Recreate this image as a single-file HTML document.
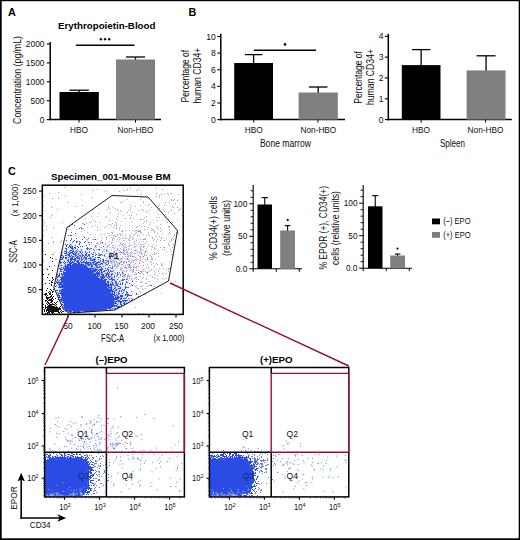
<!DOCTYPE html>
<html><head><meta charset="utf-8"><title>Figure</title>
<style>html,body{margin:0;padding:0;background:#fff;}body{width:520px;height:540px;overflow:hidden;font-family:"Liberation Sans",sans-serif;}svg{display:block;}</style></head>
<body>
<svg width="520" height="540" viewBox="0 0 520 540" font-family="'Liberation Sans', sans-serif" fill="#0d0d0d">
<rect x="0" y="0" width="520" height="540" fill="#fff"/>
<text font-size="10.8" font-weight="bold" x="8" y="16.2" fill="#000">A</text>
<text font-size="9.8" font-weight="bold" textLength="97.5" lengthAdjust="spacingAndGlyphs" x="58" y="29" fill="#000">Erythropoietin-Blood</text>
<line x1="50.2" y1="42" x2="50.2" y2="120.35" stroke="#000" stroke-width="1.5"/>
<line x1="49.45" y1="119.6" x2="161" y2="119.6" stroke="#000" stroke-width="1.5"/>
<line x1="46.7" y1="44" x2="50.2" y2="44" stroke="#000" stroke-width="1.1"/>
<text font-size="8.4" text-anchor="end" x="44.5" y="47">2000</text>
<line x1="46.7" y1="62.9" x2="50.2" y2="62.9" stroke="#000" stroke-width="1.1"/>
<text font-size="8.4" text-anchor="end" x="44.5" y="65.9">1500</text>
<line x1="46.7" y1="81.8" x2="50.2" y2="81.8" stroke="#000" stroke-width="1.1"/>
<text font-size="8.4" text-anchor="end" x="44.5" y="84.8">1000</text>
<line x1="46.7" y1="100.7" x2="50.2" y2="100.7" stroke="#000" stroke-width="1.1"/>
<text font-size="8.4" text-anchor="end" x="44.5" y="103.7">500</text>
<line x1="46.7" y1="119.6" x2="50.2" y2="119.6" stroke="#000" stroke-width="1.1"/>
<text font-size="8.4" text-anchor="end" x="44.5" y="122.6">0</text>
<line x1="79.15" y1="90.2" x2="79.15" y2="93" stroke="#000" stroke-width="1.3"/>
<line x1="69.45" y1="90.2" x2="88.85" y2="90.2" stroke="#000" stroke-width="1.3"/>
<rect x="59.5" y="92" width="39.3" height="27.6" fill="#000"/>
<line x1="135.5" y1="57" x2="135.5" y2="60.5" stroke="#000" stroke-width="1.3"/>
<line x1="126" y1="57" x2="145" y2="57" stroke="#000" stroke-width="1.3"/>
<rect x="116" y="59.5" width="39" height="60.1" fill="#808080"/>
<line x1="79" y1="119.6" x2="79" y2="122.6" stroke="#000" stroke-width="1"/>
<line x1="135.5" y1="119.6" x2="135.5" y2="122.6" stroke="#000" stroke-width="1"/>
<text font-size="8.3" text-anchor="middle" x="79" y="133.2">HBO</text>
<text font-size="8.25" text-anchor="middle" x="135.5" y="133.2">Non-HBO</text>
<line x1="76" y1="45.2" x2="134.5" y2="45.2" stroke="#000" stroke-width="1.4"/>
<circle cx="100.9" cy="39.3" r="1.2" fill="#111"/>
<circle cx="105.1" cy="39.3" r="1.2" fill="#111"/>
<circle cx="109.2" cy="39.3" r="1.2" fill="#111"/>
<text font-size="10.8" text-anchor="middle" textLength="88" lengthAdjust="spacingAndGlyphs" transform="translate(21.3 80) rotate(-90)">Concentration (pg/mL)</text>
<text font-size="10.8" font-weight="bold" x="188.6" y="16.2" fill="#000">B</text>
<line x1="220.8" y1="33.8" x2="220.8" y2="120.35" stroke="#000" stroke-width="1.5"/>
<line x1="220.05" y1="119.6" x2="345" y2="119.6" stroke="#000" stroke-width="1.5"/>
<line x1="217.3" y1="36.5" x2="220.8" y2="36.5" stroke="#000" stroke-width="1.1"/>
<text font-size="8.6" text-anchor="end" x="215.8" y="39.6">10</text>
<line x1="217.3" y1="53.12" x2="220.8" y2="53.12" stroke="#000" stroke-width="1.1"/>
<text font-size="8.6" text-anchor="end" x="215.8" y="56.22">8</text>
<line x1="217.3" y1="69.74" x2="220.8" y2="69.74" stroke="#000" stroke-width="1.1"/>
<text font-size="8.6" text-anchor="end" x="215.8" y="72.84">6</text>
<line x1="217.3" y1="86.36" x2="220.8" y2="86.36" stroke="#000" stroke-width="1.1"/>
<text font-size="8.6" text-anchor="end" x="215.8" y="89.46">4</text>
<line x1="217.3" y1="102.98" x2="220.8" y2="102.98" stroke="#000" stroke-width="1.1"/>
<text font-size="8.6" text-anchor="end" x="215.8" y="106.08">2</text>
<line x1="217.3" y1="119.6" x2="220.8" y2="119.6" stroke="#000" stroke-width="1.1"/>
<text font-size="8.6" text-anchor="end" x="215.8" y="122.7">0</text>
<line x1="253.6" y1="54.6" x2="253.6" y2="64" stroke="#000" stroke-width="1.3"/>
<line x1="244.85" y1="54.6" x2="262.35" y2="54.6" stroke="#000" stroke-width="1.3"/>
<rect x="234.2" y="63" width="38.8" height="56.6" fill="#000"/>
<line x1="318.2" y1="87" x2="318.2" y2="93.5" stroke="#000" stroke-width="1.3"/>
<line x1="308.95" y1="87" x2="327.45" y2="87" stroke="#000" stroke-width="1.3"/>
<rect x="298.6" y="92.5" width="39.2" height="27.1" fill="#808080"/>
<line x1="253.8" y1="119.6" x2="253.8" y2="122.6" stroke="#000" stroke-width="1"/>
<line x1="317.9" y1="119.6" x2="317.9" y2="122.6" stroke="#000" stroke-width="1"/>
<text font-size="8.3" text-anchor="middle" x="253.8" y="133.2">HBO</text>
<text font-size="8.25" text-anchor="middle" x="318.4" y="133.2">Non-HBO</text>
<text font-size="10.8" text-anchor="middle" textLength="51" lengthAdjust="spacingAndGlyphs" x="285.4" y="146.7">Bone marrow</text>
<line x1="253.8" y1="50.2" x2="316" y2="50.2" stroke="#000" stroke-width="1.4"/>
<circle cx="285" cy="44.4" r="1.3" fill="#111"/>
<text font-size="10.8" text-anchor="middle" textLength="52.5" lengthAdjust="spacingAndGlyphs" transform="translate(189 76.2) rotate(-90)">Percentage of</text>
<text font-size="10.8" text-anchor="middle" textLength="56" lengthAdjust="spacingAndGlyphs" transform="translate(201.2 75.6) rotate(-90)">human CD34+</text>
<line x1="388.3" y1="33.8" x2="388.3" y2="120.35" stroke="#000" stroke-width="1.5"/>
<line x1="387.55" y1="119.6" x2="511.8" y2="119.6" stroke="#000" stroke-width="1.5"/>
<line x1="384.8" y1="36.32" x2="388.3" y2="36.32" stroke="#000" stroke-width="1.1"/>
<text font-size="8.5" text-anchor="end" x="383.4" y="39.42">4</text>
<line x1="384.8" y1="57.14" x2="388.3" y2="57.14" stroke="#000" stroke-width="1.1"/>
<text font-size="8.5" text-anchor="end" x="383.4" y="60.24">3</text>
<line x1="384.8" y1="77.96" x2="388.3" y2="77.96" stroke="#000" stroke-width="1.1"/>
<text font-size="8.5" text-anchor="end" x="383.4" y="81.06">2</text>
<line x1="384.8" y1="98.78" x2="388.3" y2="98.78" stroke="#000" stroke-width="1.1"/>
<text font-size="8.5" text-anchor="end" x="383.4" y="101.88">1</text>
<line x1="384.8" y1="119.6" x2="388.3" y2="119.6" stroke="#000" stroke-width="1.1"/>
<text font-size="8.5" text-anchor="end" x="383.4" y="122.7">0</text>
<line x1="421.15" y1="49.6" x2="421.15" y2="66.1" stroke="#000" stroke-width="1.3"/>
<line x1="411.9" y1="49.6" x2="430.4" y2="49.6" stroke="#000" stroke-width="1.3"/>
<rect x="401.8" y="65.1" width="38.7" height="54.5" fill="#000"/>
<line x1="486.05" y1="55.8" x2="486.05" y2="71.4" stroke="#000" stroke-width="1.3"/>
<line x1="476.55" y1="55.8" x2="495.55" y2="55.8" stroke="#000" stroke-width="1.3"/>
<rect x="466.6" y="70.4" width="38.9" height="49.2" fill="#808080"/>
<line x1="421.2" y1="119.6" x2="421.2" y2="122.6" stroke="#000" stroke-width="1"/>
<line x1="485.6" y1="119.6" x2="485.6" y2="122.6" stroke="#000" stroke-width="1"/>
<text font-size="8.3" text-anchor="middle" x="421" y="133.2">HBO</text>
<text font-size="8.25" text-anchor="middle" x="485.5" y="133.2">Non-HBO</text>
<text font-size="10.8" text-anchor="middle" textLength="25" lengthAdjust="spacingAndGlyphs" x="452.5" y="146.7">Spleen</text>
<text font-size="10.8" text-anchor="middle" textLength="52.5" lengthAdjust="spacingAndGlyphs" transform="translate(361.9 77.4) rotate(-90)">Percentage of</text>
<text font-size="10.8" text-anchor="middle" textLength="56" lengthAdjust="spacingAndGlyphs" transform="translate(374 77) rotate(-90)">human CD34+</text>
<text font-size="10.8" font-weight="bold" x="8" y="175.2" fill="#000">C</text>
<text font-size="9.8" font-weight="bold" textLength="119.6" lengthAdjust="spacingAndGlyphs" x="51" y="180.3" fill="#000">Specimen_001-Mouse BM</text>
<defs><filter id="bl" x="-30%" y="-30%" width="160%" height="160%"><feGaussianBlur stdDeviation="5"/></filter><clipPath id="gc"><path d="M53.8 287.5 L67 227.5 L112 195.5 L148 197 L177.5 230.5 L168.5 281 L115 310 L69 313.2 L63.5 309.5 Z"/></clipPath></defs>
<g clip-path="url(#gc)"><path d="M68.8 243 L90 257 L110 276 L126 296 L128 306.5 L112 311 L69 313 L63 309 L54.5 287.5 L61 262 Z" fill="#2b4ce4" fill-opacity="0.22" filter="url(#bl)"/><ellipse cx="112" cy="268" rx="34" ry="22" transform="rotate(-35 112 268)" fill="#5a6ad8" fill-opacity="0.08" filter="url(#bl)"/></g>
<path d="M65.5 309.5 L62.8 296 L63.8 280 L67.5 268.5 L74.5 264.3 L83 265.5 L95 276 L107.5 288.5 L113 298.5 L112.5 306 L100 310 L80 310.8 Z" fill="#2b4ce4" stroke="#2b4ce4" stroke-width="1.2"/>
<path d="M72 224.5h1M84 224.5h1M74 225.5h1M69 226.5h1M67 227.5h1M79 228.5h1M81 228.5h1M71 232.5h1M75 233.5h1M68 235.5h1M70 235.5h2M84 237.5h1M76 238.5h1M88 238.5h1M82 239.5h1M95 239.5h1M66 240.5h1M70 240.5h1M74 240.5h1M73 241.5h1M76 241.5h1M79 241.5h1M85 241.5h1M76 242.5h1M80 242.5h1M84 242.5h1M88 242.5h1M91 242.5h1M102 242.5h1M79 243.5h1M65 244.5h1M67 244.5h1M70 244.5h1M79 244.5h1M89 244.5h1M66 245.5h1M69 245.5h1M86 245.5h1M66 246.5h1M69 246.5h2M72 246.5h1M77 246.5h1M80 246.5h1M95 246.5h1M103 246.5h1M68 247.5h1M70 247.5h3M74 247.5h2M78 247.5h1M65 248.5h2M71 248.5h2M75 248.5h1M86 248.5h1M91 248.5h1M62 249.5h1M72 249.5h1M77 249.5h1M87 249.5h1M89 249.5h1M93 249.5h1M98 249.5h2M70 250.5h2M73 250.5h1M76 250.5h1M94 250.5h1M106 250.5h1M64 251.5h1M66 251.5h1M69 251.5h1M72 251.5h2M77 251.5h1M79 251.5h2M66 252.5h1M68 252.5h1M70 252.5h3M74 252.5h1M76 252.5h1M80 252.5h1M85 252.5h1M93 252.5h1M64 253.5h3M69 253.5h2M73 253.5h1M75 253.5h2M78 253.5h1M81 253.5h1M86 253.5h1M61 254.5h1M67 254.5h3M73 254.5h3M78 254.5h1M82 254.5h1M85 254.5h2M92 254.5h1M99 254.5h1M101 254.5h1M61 255.5h2M65 255.5h2M68 255.5h2M71 255.5h1M75 255.5h2M79 255.5h2M82 255.5h2M85 255.5h1M88 255.5h2M95 255.5h1M104 255.5h1M111 255.5h1M63 256.5h1M69 256.5h2M72 256.5h2M75 256.5h1M77 256.5h2M82 256.5h1M84 256.5h1M87 256.5h1M92 256.5h1M109 256.5h1M60 257.5h4M65 257.5h2M68 257.5h1M71 257.5h2M76 257.5h2M81 257.5h1M84 257.5h3M98 257.5h2M62 258.5h1M65 258.5h2M70 258.5h3M74 258.5h2M77 258.5h3M81 258.5h1M83 258.5h1M85 258.5h1M88 258.5h1M90 258.5h2M94 258.5h1M60 259.5h3M68 259.5h1M70 259.5h2M73 259.5h3M81 259.5h2M86 259.5h1M94 259.5h2M98 259.5h1M103 259.5h1M67 260.5h2M70 260.5h2M75 260.5h1M77 260.5h2M84 260.5h1M90 260.5h1M92 260.5h3M100 260.5h1M64 261.5h1M68 261.5h1M70 261.5h1M72 261.5h1M74 261.5h1M76 261.5h3M80 261.5h1M83 261.5h1M86 261.5h1M94 261.5h1M100 261.5h1M110 261.5h1M60 262.5h2M63 262.5h1M65 262.5h1M67 262.5h1M69 262.5h5M77 262.5h1M81 262.5h6M88 262.5h1M90 262.5h1M93 262.5h2M96 262.5h4M106 262.5h1M64 263.5h1M69 263.5h3M73 263.5h4M78 263.5h2M81 263.5h1M85 263.5h4M93 263.5h1M95 263.5h1M101 263.5h1M105 263.5h1M65 264.5h1M67 264.5h4M72 264.5h2M76 264.5h8M85 264.5h1M87 264.5h2M91 264.5h1M94 264.5h2M100 264.5h1M106 264.5h1M60 265.5h2M65 265.5h1M67 265.5h6M83 265.5h1M85 265.5h2M88 265.5h2M91 265.5h1M95 265.5h1M97 265.5h1M64 266.5h5M70 266.5h1M84 266.5h3M91 266.5h2M96 266.5h1M99 266.5h2M61 267.5h1M63 267.5h1M65 267.5h4M85 267.5h3M91 267.5h1M97 267.5h2M108 267.5h1M59 268.5h2M63 268.5h4M86 268.5h7M95 268.5h1M105 268.5h1M60 269.5h3M64 269.5h3M88 269.5h3M94 269.5h4M99 269.5h3M108 269.5h1M133 269.5h1M64 270.5h3M89 270.5h3M93 270.5h4M98 270.5h1M100 270.5h2M113 270.5h1M60 271.5h2M63 271.5h1M66 271.5h1M90 271.5h5M97 271.5h1M99 271.5h1M101 271.5h1M103 271.5h2M108 271.5h1M110 271.5h1M112 271.5h1M63 272.5h3M91 272.5h3M96 272.5h2M99 272.5h1M101 272.5h1M107 272.5h1M109 272.5h1M122 272.5h1M138 272.5h1M59 273.5h1M61 273.5h1M63 273.5h3M92 273.5h1M94 273.5h5M101 273.5h1M123 273.5h1M57 274.5h1M59 274.5h1M61 274.5h5M93 274.5h7M101 274.5h3M106 274.5h1M108 274.5h1M111 274.5h1M125 274.5h1M58 275.5h2M62 275.5h1M64 275.5h1M94 275.5h2M97 275.5h1M99 275.5h1M102 275.5h2M105 275.5h1M108 275.5h1M124 275.5h1M57 276.5h2M62 276.5h3M96 276.5h3M101 276.5h2M104 276.5h1M106 276.5h1M108 276.5h2M129 276.5h1M60 277.5h5M97 277.5h1M100 277.5h1M102 277.5h3M107 277.5h1M109 277.5h1M56 278.5h1M61 278.5h3M98 278.5h2M101 278.5h3M111 278.5h1M57 279.5h1M60 279.5h4M99 279.5h4M104 279.5h3M110 279.5h1M112 279.5h2M124 279.5h1M126 279.5h1M57 280.5h1M59 280.5h1M61 280.5h3M100 280.5h6M112 280.5h1M114 280.5h1M58 281.5h1M61 281.5h3M101 281.5h5M107 281.5h2M111 281.5h1M115 281.5h1M119 281.5h1M132 281.5h1M56 282.5h8M102 282.5h3M107 282.5h2M112 282.5h1M122 282.5h1M55 283.5h1M57 283.5h1M59 283.5h3M63 283.5h1M103 283.5h4M108 283.5h1M110 283.5h1M112 283.5h1M118 283.5h1M120 283.5h1M122 283.5h1M129 283.5h1M58 284.5h6M104 284.5h5M110 284.5h4M117 284.5h1M120 284.5h1M125 284.5h1M56 285.5h1M59 285.5h1M61 285.5h2M105 285.5h7M116 285.5h2M132 285.5h1M151 285.5h1M55 286.5h1M59 286.5h4M106 286.5h3M111 286.5h1M118 286.5h1M125 286.5h1M58 287.5h5M108 287.5h4M115 287.5h1M120 287.5h1M125 287.5h1M108 288.5h1M111 288.5h1M114 288.5h1M118 288.5h3M125 288.5h1M61 289.5h2M108 289.5h4M113 289.5h1M116 289.5h1M122 289.5h1M56 290.5h2M59 290.5h4M109 290.5h4M115 290.5h2M119 290.5h1M123 290.5h2M59 291.5h1M61 291.5h2M109 291.5h6M119 291.5h1M121 291.5h1M57 292.5h1M60 292.5h3M112 292.5h1M114 292.5h1M118 292.5h1M126 292.5h1M58 293.5h5M110 293.5h3M114 293.5h1M118 293.5h2M122 293.5h1M136 293.5h1M58 294.5h1M61 294.5h2M111 294.5h4M116 294.5h1M118 294.5h1M125 294.5h2M128 294.5h1M136 294.5h1M58 295.5h2M61 295.5h2M111 295.5h2M114 295.5h2M117 295.5h1M120 295.5h3M125 295.5h1M127 295.5h1M129 295.5h2M59 296.5h1M62 296.5h1M112 296.5h2M115 296.5h1M117 296.5h2M120 296.5h3M127 296.5h1M138 296.5h1M58 297.5h5M112 297.5h2M115 297.5h5M121 297.5h1M126 297.5h1M61 298.5h2M113 298.5h6M120 298.5h2M123 298.5h3M128 298.5h1M131 298.5h1M60 299.5h3M113 299.5h5M120 299.5h1M60 300.5h4M113 300.5h1M117 300.5h3M122 300.5h5M129 300.5h1M131 300.5h1M61 301.5h1M63 301.5h1M113 301.5h4M118 301.5h4M123 301.5h1M125 301.5h1M62 302.5h2M113 302.5h1M115 302.5h1M120 302.5h2M124 302.5h1M128 302.5h1M113 303.5h4M120 303.5h1M123 303.5h2M126 303.5h1M61 304.5h2M113 304.5h1M117 304.5h1M120 304.5h2M124 304.5h1M63 305.5h2M113 305.5h4M121 305.5h1M64 306.5h1M111 306.5h4M116 306.5h4M63 307.5h2M108 307.5h4M117 307.5h2M64 308.5h1M105 308.5h1M107 308.5h4M112 308.5h1M114 308.5h2M117 308.5h1M102 309.5h5M110 309.5h1M115 309.5h1M65 310.5h6M72 310.5h5M88 310.5h5M94 310.5h2M97 310.5h2M100 310.5h1M102 310.5h1M106 310.5h2M66 311.5h1M68 311.5h4M73 311.5h7M84 311.5h5M90 311.5h3M70 312.5h1M73 312.5h3M77 312.5h1" stroke="#2b4ce4" stroke-width="1" fill="none"/>
<path d="M71 238.5h1M71 239.5h1M77 241.5h1M72 242.5h1M71 245.5h1M75 245.5h1M82 246.5h1M87 247.5h1M73 248.5h1M87 248.5h2M90 248.5h1M66 249.5h1M81 249.5h1M66 250.5h1M81 250.5h1M65 251.5h1M75 251.5h1M85 251.5h1M89 251.5h1M62 252.5h1M82 252.5h1M87 252.5h1M89 252.5h1M72 253.5h1M91 253.5h1M98 253.5h1M88 254.5h2M93 254.5h1M96 254.5h1M100 254.5h1M86 255.5h1M99 255.5h2M102 255.5h1M80 256.5h1M89 256.5h1M93 256.5h1M79 257.5h1M90 257.5h1M95 257.5h1M97 257.5h1M86 258.5h1M89 258.5h1M100 258.5h1M72 259.5h1M79 259.5h1M85 259.5h1M90 259.5h1M92 259.5h2M102 259.5h1M74 260.5h1M81 260.5h1M91 260.5h1M103 260.5h1M105 260.5h2M60 261.5h1M95 261.5h1M98 261.5h1M102 261.5h2M107 261.5h2M78 262.5h2M87 262.5h1M89 262.5h1M92 262.5h1M103 262.5h2M60 263.5h1M90 263.5h2M96 263.5h2M102 263.5h1M108 263.5h1M89 264.5h2M93 264.5h1M96 264.5h1M98 264.5h2M107 264.5h1M84 265.5h1M92 265.5h1M96 265.5h1M105 265.5h1M109 265.5h1M112 266.5h1M94 267.5h1M96 267.5h1M99 267.5h1M101 267.5h1M110 267.5h1M112 267.5h1M93 268.5h1M101 268.5h2M107 268.5h1M111 268.5h2M92 269.5h2M102 269.5h1M107 269.5h1M60 270.5h1M92 270.5h1M105 270.5h2M108 270.5h1M110 270.5h1M95 271.5h1M111 271.5h1M98 272.5h1M102 272.5h1M117 272.5h1M119 272.5h1M99 273.5h1M105 273.5h1M107 273.5h2M112 273.5h1M115 273.5h1M117 273.5h1M107 274.5h1M109 274.5h1M112 274.5h1M117 274.5h1M120 274.5h1M56 275.5h1M106 275.5h1M111 275.5h1M114 275.5h1M117 275.5h1M120 275.5h1M59 276.5h1M100 276.5h1M103 276.5h1M114 276.5h1M116 276.5h1M122 276.5h1M57 277.5h1M101 277.5h1M111 277.5h2M114 277.5h1M118 277.5h1M108 278.5h1M109 279.5h1M111 279.5h1M114 279.5h1M117 279.5h1M122 279.5h2M121 280.5h3M56 281.5h1M116 281.5h1M126 281.5h1M105 282.5h1M115 282.5h1M126 282.5h2M115 283.5h2M116 284.5h1M122 284.5h1M113 285.5h1M115 285.5h1M114 286.5h1M119 286.5h1M126 287.5h3M110 288.5h1M115 288.5h1M124 289.5h1M121 290.5h1M126 291.5h1M131 291.5h1M123 292.5h1M127 292.5h1M127 293.5h1M127 294.5h1M128 295.5h1M131 295.5h1M132 299.5h1M127 300.5h1M71 310.5h1M93 310.5h1" stroke="#2f50e0" stroke-width="1" fill="none" stroke-opacity="0.85"/>
<path d="M141 197.5h1M140 199.5h1M123 201.5h1M120 202.5h2M149 204.5h1M108 205.5h1M140 205.5h1M148 205.5h1M135 206.5h1M108 207.5h1M112 207.5h1M130 207.5h1M151 207.5h1M109 208.5h1M115 208.5h1M130 208.5h1M117 209.5h1M142 209.5h1M92 210.5h1M117 210.5h1M120 210.5h1M128 210.5h1M130 210.5h1M138 210.5h1M143 210.5h1M149 210.5h1M157 210.5h1M121 211.5h1M110 212.5h1M127 212.5h1M132 212.5h1M147 212.5h1M98 213.5h1M136 214.5h1M158 214.5h1M123 215.5h1M129 215.5h1M131 215.5h1M91 216.5h1M97 216.5h1M106 216.5h1M117 216.5h1M146 216.5h1M105 217.5h1M130 217.5h1M144 217.5h1M159 217.5h1M165 217.5h1M85 218.5h1M116 218.5h1M125 218.5h1M130 218.5h1M133 218.5h1M140 219.5h2M143 219.5h1M93 220.5h1M117 220.5h1M146 220.5h1M157 220.5h1M162 220.5h1M121 221.5h1M131 221.5h1M144 221.5h1M89 222.5h2M99 222.5h1M115 222.5h1M146 222.5h1M82 223.5h2M86 223.5h1M112 223.5h1M116 223.5h1M143 223.5h1M108 224.5h1M110 224.5h1M116 224.5h1M149 224.5h1M71 225.5h1M95 225.5h1M111 225.5h1M114 225.5h1M116 225.5h1M120 225.5h1M129 225.5h1M139 225.5h1M92 226.5h1M106 226.5h1M137 226.5h1M141 226.5h1M144 226.5h1M156 226.5h1M169 226.5h1M80 227.5h2M87 227.5h1M97 227.5h1M104 227.5h1M113 227.5h1M116 227.5h1M119 227.5h1M132 227.5h1M148 227.5h1M169 227.5h1M82 228.5h2M151 228.5h1M68 229.5h1M76 229.5h1M100 229.5h1M119 229.5h1M147 229.5h1M152 229.5h1M158 229.5h1M84 230.5h1M122 230.5h1M125 230.5h1M132 230.5h1M135 230.5h2M138 230.5h3M151 230.5h1M153 230.5h1M161 230.5h1M81 231.5h1M121 231.5h2M134 231.5h1M137 231.5h1M139 231.5h2M154 231.5h1M160 231.5h1M87 232.5h1M111 232.5h2M136 232.5h1M140 232.5h1M148 232.5h1M154 232.5h1M176 232.5h1M107 233.5h1M109 233.5h1M112 233.5h1M119 233.5h1M121 233.5h1M131 233.5h1M135 233.5h1M138 233.5h1M157 233.5h1M162 233.5h1M170 233.5h1M90 234.5h1M95 234.5h1M100 234.5h1M104 234.5h1M117 234.5h1M120 234.5h1M125 234.5h1M134 234.5h1M143 234.5h1M148 234.5h1M168 234.5h1M174 234.5h1M75 235.5h1M109 235.5h2M113 235.5h2M117 235.5h1M122 235.5h1M130 235.5h1M133 235.5h1M137 235.5h1M139 235.5h1M149 235.5h1M174 235.5h1M83 236.5h1M130 236.5h1M156 236.5h1M159 236.5h1M173 236.5h1M78 237.5h1M111 237.5h1M113 237.5h1M118 237.5h2M123 237.5h1M129 237.5h1M132 237.5h1M101 238.5h1M112 238.5h1M114 238.5h1M120 238.5h1M122 238.5h1M125 238.5h1M129 238.5h1M133 238.5h1M161 238.5h1M166 238.5h1M172 238.5h1M86 239.5h2M92 239.5h3M97 239.5h1M106 239.5h1M112 239.5h1M117 239.5h1M119 239.5h1M128 239.5h1M132 239.5h1M140 239.5h1M143 239.5h3M154 239.5h1M157 239.5h1M171 239.5h1M87 240.5h1M101 240.5h1M112 240.5h1M123 240.5h2M129 240.5h1M136 240.5h1M153 240.5h1M171 240.5h1M100 241.5h1M109 241.5h1M118 241.5h1M134 241.5h1M143 241.5h1M146 241.5h1M169 241.5h1M89 242.5h1M97 242.5h1M101 242.5h1M111 242.5h1M121 242.5h1M139 242.5h1M96 243.5h1M102 243.5h1M105 243.5h1M111 243.5h1M120 243.5h1M134 243.5h1M145 243.5h1M168 243.5h1M98 244.5h1M105 244.5h1M109 244.5h1M121 244.5h2M124 244.5h2M134 244.5h1M138 244.5h1M140 244.5h2M143 244.5h1M148 244.5h1M168 244.5h1M95 245.5h1M107 245.5h2M112 245.5h2M119 245.5h1M122 245.5h1M129 245.5h2M136 245.5h1M152 245.5h1M156 245.5h1M169 245.5h1M99 246.5h1M107 246.5h1M115 246.5h1M123 246.5h1M125 246.5h1M128 246.5h1M134 246.5h1M139 246.5h1M141 246.5h1M144 246.5h1M147 246.5h1M151 246.5h1M94 247.5h1M96 247.5h1M100 247.5h2M106 247.5h1M109 247.5h1M112 247.5h2M124 247.5h1M126 247.5h1M134 247.5h1M152 247.5h1M154 247.5h1M164 247.5h1M172 247.5h1M114 248.5h1M120 248.5h1M123 248.5h1M129 248.5h1M140 248.5h1M146 248.5h1M96 249.5h1M104 249.5h1M106 249.5h1M111 249.5h1M117 249.5h1M123 249.5h1M140 249.5h2M151 249.5h1M155 249.5h1M162 249.5h1M99 250.5h1M103 250.5h1M107 250.5h1M115 250.5h1M119 250.5h1M123 250.5h2M126 250.5h1M134 250.5h3M140 250.5h1M143 250.5h1M145 250.5h1M102 251.5h1M104 251.5h1M106 251.5h1M108 251.5h1M120 251.5h1M124 251.5h1M140 251.5h1M166 251.5h1M102 252.5h1M110 252.5h1M113 252.5h2M119 252.5h3M126 252.5h2M130 252.5h1M132 252.5h1M137 252.5h1M139 252.5h1M141 252.5h1M144 252.5h2M154 252.5h1M106 253.5h1M115 253.5h1M122 253.5h1M129 253.5h1M134 253.5h2M140 253.5h1M150 253.5h1M155 253.5h2M158 253.5h1M104 254.5h1M109 254.5h1M111 254.5h1M114 254.5h2M120 254.5h1M124 254.5h2M130 254.5h1M142 254.5h1M152 254.5h1M154 254.5h1M171 254.5h2M109 255.5h1M115 255.5h1M128 255.5h1M130 255.5h1M138 255.5h1M144 255.5h1M104 256.5h2M114 256.5h1M117 256.5h1M122 256.5h1M125 256.5h1M127 256.5h2M130 256.5h1M133 256.5h2M139 256.5h2M151 256.5h1M158 256.5h1M107 257.5h1M110 257.5h1M112 257.5h1M114 257.5h2M135 257.5h1M140 257.5h1M151 257.5h1M106 258.5h1M109 258.5h2M118 258.5h1M120 258.5h3M124 258.5h1M136 258.5h1M143 258.5h1M147 258.5h1M152 258.5h1M111 259.5h1M114 259.5h1M118 259.5h1M121 259.5h1M126 259.5h3M147 259.5h1M152 259.5h1M155 259.5h1M110 260.5h1M112 260.5h2M119 260.5h2M129 260.5h1M132 260.5h3M139 260.5h1M146 260.5h1M111 261.5h1M113 261.5h2M123 261.5h1M128 261.5h1M131 261.5h1M169 261.5h1M111 262.5h2M114 262.5h1M116 262.5h1M118 262.5h1M120 262.5h2M123 262.5h2M126 262.5h1M133 262.5h1M151 262.5h1M111 263.5h1M114 263.5h1M117 263.5h1M123 263.5h1M130 263.5h1M135 263.5h1M161 263.5h1M112 264.5h1M114 264.5h2M122 264.5h1M127 264.5h2M134 264.5h1M147 264.5h1M161 264.5h1M114 265.5h2M117 265.5h2M123 265.5h1M125 265.5h1M129 265.5h1M143 265.5h1M161 265.5h2M116 266.5h2M128 266.5h1M136 266.5h1M138 266.5h1M148 266.5h1M117 267.5h1M120 267.5h1M126 267.5h1M128 267.5h4M133 267.5h1M135 267.5h1M146 267.5h1M121 268.5h2M126 268.5h1M130 268.5h1M136 268.5h1M148 268.5h1M163 268.5h1M168 268.5h2M144 269.5h1M151 269.5h1M156 269.5h1M166 269.5h1M168 269.5h1M121 270.5h1M123 270.5h1M126 270.5h1M130 270.5h2M133 270.5h1M138 270.5h1M142 270.5h1M150 270.5h1M158 270.5h1M122 271.5h1M124 271.5h1M126 271.5h1M132 271.5h2M141 271.5h1M143 271.5h1M145 271.5h1M148 271.5h1M154 271.5h1M158 271.5h1M168 271.5h1M132 272.5h1M135 272.5h1M141 272.5h1M146 272.5h1M155 272.5h1M122 273.5h1M136 273.5h1M139 273.5h2M147 273.5h1M159 273.5h1M162 273.5h1M166 273.5h1M122 274.5h1M128 274.5h1M134 274.5h3M143 274.5h1M155 274.5h1M163 274.5h1M123 275.5h1M127 275.5h2M131 275.5h1M150 275.5h1M157 275.5h1M123 276.5h1M125 276.5h1M127 276.5h1M140 276.5h1M147 276.5h1M152 276.5h1M135 277.5h2M143 277.5h1M152 277.5h1M155 277.5h1M127 278.5h1M129 278.5h1M131 278.5h1M134 278.5h1M142 278.5h1M154 278.5h1M166 278.5h1M127 279.5h1M131 279.5h1M136 279.5h1M146 279.5h1M164 279.5h1M128 280.5h1M132 280.5h1M136 281.5h1M141 281.5h1M141 282.5h1M161 282.5h1M146 283.5h1M133 284.5h1M130 285.5h2M136 285.5h1M142 285.5h1M149 285.5h1M135 286.5h1M141 286.5h1M147 286.5h1M154 286.5h1M136 287.5h1M137 288.5h2M145 288.5h1M142 289.5h1M139 291.5h1M138 294.5h1" stroke="#5862b8" stroke-width="1" fill="none" stroke-opacity="0.5"/>
<path d="M127 199.5h1M143 201.5h1M143 202.5h1M130 205.5h1M107 209.5h1M146 211.5h1M118 213.5h1M156 217.5h1M109 220.5h1M95 221.5h1M166 221.5h1M150 222.5h1M167 222.5h1M160 224.5h1M168 226.5h1M136 227.5h1M157 227.5h1M116 228.5h1M160 228.5h1M144 229.5h1M169 229.5h1M97 230.5h1M129 230.5h1M138 231.5h1M141 232.5h1M169 232.5h1M120 235.5h1M146 235.5h1M125 236.5h1M94 237.5h1M152 237.5h1M161 237.5h1M126 238.5h1M145 238.5h1M152 238.5h1M143 239.5h1M173 239.5h1M129 240.5h1M160 240.5h1M164 240.5h1M156 241.5h1M112 242.5h1M97 243.5h1M120 243.5h1M123 243.5h1M129 243.5h1M173 244.5h1M96 245.5h1M135 246.5h1M143 246.5h1M140 247.5h1M143 247.5h1M160 247.5h1M163 247.5h1M117 248.5h1M154 248.5h1M126 249.5h1M128 249.5h1M131 249.5h1M164 249.5h1M170 249.5h1M118 250.5h1M123 250.5h1M135 250.5h1M127 251.5h1M145 251.5h2M171 251.5h1M95 252.5h1M116 252.5h1M121 252.5h1M95 253.5h1M131 253.5h1M141 253.5h1M144 254.5h1M154 254.5h1M146 255.5h1M150 255.5h1M108 256.5h1M130 256.5h1M142 256.5h2M147 257.5h1M113 258.5h1M118 258.5h1M135 259.5h1M137 259.5h1M140 259.5h1M145 259.5h1M147 259.5h1M151 259.5h1M107 260.5h1M136 260.5h1M140 260.5h1M108 261.5h1M116 261.5h1M124 261.5h1M128 261.5h1M142 261.5h1M150 261.5h1M130 262.5h1M139 262.5h1M143 262.5h1M119 263.5h1M139 263.5h1M153 263.5h1M156 263.5h1M117 264.5h1M119 264.5h1M121 264.5h1M151 264.5h1M157 264.5h1M143 265.5h1M130 266.5h1M133 266.5h1M136 266.5h1M154 266.5h1M124 267.5h1M134 267.5h1M115 268.5h1M159 268.5h1M143 269.5h1M136 270.5h1M140 271.5h2M114 272.5h1M119 272.5h1M111 273.5h1M142 273.5h1M154 274.5h1M124 277.5h1M127 277.5h1M136 277.5h1M112 278.5h1M134 278.5h1M146 278.5h1M162 278.5h1M117 279.5h1M138 279.5h1M157 279.5h1M120 281.5h1M126 281.5h1M149 281.5h1M156 281.5h1M140 282.5h1M125 283.5h1M145 283.5h1M131 284.5h1M148 285.5h1M150 285.5h1M140 286.5h1M117 289.5h1M140 292.5h1M132 293.5h1M114 300.5h1M117 302.5h2M126 302.5h1" stroke="#c83858" stroke-width="1" fill="none" stroke-opacity="0.55"/>
<path d="M115 236.5h1M106 237.5h1M100 243.5h1M114 251.5h1M123 252.5h1M115 253.5h1M124 253.5h1M127 254.5h1M98 255.5h1M132 256.5h1M99 257.5h1M114 258.5h1M127 258.5h1M103 260.5h1M105 260.5h1M108 260.5h1M121 261.5h1M90 262.5h1M92 262.5h1M108 262.5h1M126 262.5h1M78 263.5h1M100 263.5h1M102 263.5h1M119 263.5h1M102 264.5h1M129 264.5h1M129 265.5h1M103 266.5h1M114 266.5h1M125 267.5h1M120 269.5h1M104 270.5h1M147 272.5h1M106 273.5h1M111 274.5h1M118 274.5h1M110 276.5h1M98 278.5h1M116 282.5h1M116 292.5h1" stroke="#2a1a6a" stroke-width="1" fill="none" stroke-opacity="0.6"/>
<path d="M45 254.5h1M50 257.5h1M52 258.5h1M52 261.5h1M49 266.5h1M47 269.5h1M52 270.5h1M43 274.5h1M48 274.5h1M47 277.5h1M52 277.5h1M52 278.5h1M53 279.5h1M49 280.5h1M52 280.5h1M51 281.5h1M51 282.5h2M45 283.5h1M49 283.5h1M51 284.5h1M51 285.5h1M47 288.5h1M50 289.5h1M53 289.5h1M46 290.5h1M51 290.5h1M49 291.5h1M52 291.5h2M48 292.5h1M50 292.5h1M52 292.5h1M45 293.5h2M49 293.5h2M44 294.5h3M49 294.5h2M52 294.5h1M45 295.5h1M47 295.5h1M51 295.5h1M46 296.5h1M50 296.5h2M53 296.5h1M46 297.5h5M52 297.5h1M46 298.5h3M51 298.5h2M55 298.5h1M47 299.5h1M49 299.5h3M53 299.5h1M58 299.5h1M45 300.5h2M48 300.5h5M45 301.5h1M47 301.5h1M51 301.5h2M57 301.5h1M47 302.5h2M50 302.5h2M54 302.5h1M56 302.5h1M46 303.5h1M48 303.5h2M52 303.5h1M55 303.5h1M43 304.5h1M47 304.5h1M49 304.5h6M56 304.5h1M45 305.5h1M48 305.5h4M55 305.5h1M45 306.5h1M47 306.5h8M56 306.5h1M60 306.5h1M43 307.5h1M45 307.5h13M59 307.5h1M45 308.5h1M47 308.5h14M44 309.5h1M46 309.5h15M44 310.5h1M46 310.5h13M61 310.5h1M44 311.5h1M46 311.5h1M48 311.5h11M60 311.5h1M62 311.5h2M47 312.5h3M51 312.5h3M58 312.5h2M61 312.5h1M45 313.5h1M47 313.5h1M49 313.5h1M52 313.5h1M54 313.5h1M59 313.5h1" stroke="#000" stroke-width="1" fill="none" stroke-opacity="0.92"/>
<path d="M64 187.5h1M130 188.5h1M156 188.5h1M97 189.5h1M127 189.5h1M138 189.5h1M162 189.5h1M93 190.5h1M124 190.5h1M136 190.5h1M105 191.5h1M119 191.5h1M58 192.5h1M49 193.5h1M156 193.5h1M167 193.5h1M171 193.5h1M81 194.5h1M141 194.5h1M161 194.5h1M164 194.5h1M168 194.5h1M178 194.5h1M159 195.5h1M65 196.5h1M156 196.5h1M92 197.5h1M159 197.5h1M52 198.5h1M58 198.5h1M171 199.5h1M174 199.5h1M171 200.5h1M173 200.5h1M177 200.5h1M67 202.5h1M165 202.5h1M169 202.5h1M175 203.5h1M159 204.5h1M82 205.5h1M164 205.5h1M75 206.5h1M96 206.5h1M158 206.5h1M172 206.5h1M51 207.5h1M173 207.5h1M177 207.5h1M159 208.5h1M180 208.5h1M57 209.5h1M163 209.5h1M179 209.5h1M171 210.5h1M178 210.5h1M164 211.5h1M168 212.5h1M174 213.5h1M165 214.5h1M51 215.5h1M164 215.5h1M182 215.5h1M74 216.5h1M50 217.5h1M75 217.5h1M168 219.5h1M177 220.5h1M44 222.5h1M62 222.5h1M172 222.5h1M46 226.5h1M53 227.5h1M46 229.5h1M177 232.5h1M178 233.5h1M52 237.5h1M61 240.5h1M53 241.5h1M63 241.5h1M53 242.5h1M60 242.5h1M48 243.5h1M43 251.5h1M54 252.5h1M52 254.5h2M55 259.5h2M43 261.5h1M54 265.5h1M57 265.5h1M46 268.5h1M49 273.5h1M55 279.5h1M175 281.5h1M172 283.5h1M182 291.5h1M161 293.5h1M145 294.5h1M121 307.5h1M135 307.5h1M122 309.5h1" stroke="#333" stroke-width="1" fill="none" stroke-opacity="0.45"/>
<path d="M53.8 287.5 L67 227.5 L112 195.5 L148 197 L177.5 230.5 L168.5 281 L115 310 L69 313.2 L63.5 309.5 Z" fill="none" stroke="#1a1a1a" stroke-width="1"/>
<rect x="42.3" y="185.2" width="140.9" height="129.2" fill="none" stroke="#000" stroke-width="1.5"/>
<text font-size="8.4" text-anchor="middle" x="113.8" y="259.2" fill="#141438" stroke="#141438" stroke-width="0.25">P1</text>
<line x1="39" y1="289.57" x2="42.3" y2="289.57" stroke="#000" stroke-width="1.1"/>
<text font-size="8.3" text-anchor="end" x="36.6" y="292.57">50</text>
<line x1="68" y1="314.4" x2="68" y2="317.4" stroke="#000" stroke-width="1.1"/>
<line x1="39" y1="264.95" x2="42.3" y2="264.95" stroke="#000" stroke-width="1.1"/>
<text font-size="8.3" text-anchor="end" x="36.6" y="267.95">100</text>
<line x1="95" y1="314.4" x2="95" y2="317.4" stroke="#000" stroke-width="1.1"/>
<line x1="39" y1="240.32" x2="42.3" y2="240.32" stroke="#000" stroke-width="1.1"/>
<text font-size="8.3" text-anchor="end" x="36.6" y="243.32">150</text>
<line x1="122" y1="314.4" x2="122" y2="317.4" stroke="#000" stroke-width="1.1"/>
<line x1="39" y1="215.7" x2="42.3" y2="215.7" stroke="#000" stroke-width="1.1"/>
<text font-size="8.3" text-anchor="end" x="36.6" y="218.7">200</text>
<line x1="149" y1="314.4" x2="149" y2="317.4" stroke="#000" stroke-width="1.1"/>
<line x1="39" y1="191.07" x2="42.3" y2="191.07" stroke="#000" stroke-width="1.1"/>
<text font-size="8.3" text-anchor="end" x="36.6" y="194.07">250</text>
<line x1="176" y1="314.4" x2="176" y2="317.4" stroke="#000" stroke-width="1.1"/>
<line x1="42.3" y1="309.27" x2="43.8" y2="309.27" stroke="#444" stroke-width="0.5"/>
<line x1="46.4" y1="312.9" x2="46.4" y2="314.4" stroke="#444" stroke-width="0.5"/>
<line x1="42.3" y1="304.35" x2="43.8" y2="304.35" stroke="#444" stroke-width="0.5"/>
<line x1="51.8" y1="312.9" x2="51.8" y2="314.4" stroke="#444" stroke-width="0.5"/>
<line x1="42.3" y1="299.43" x2="43.8" y2="299.43" stroke="#444" stroke-width="0.5"/>
<line x1="57.2" y1="312.9" x2="57.2" y2="314.4" stroke="#444" stroke-width="0.5"/>
<line x1="42.3" y1="294.5" x2="43.8" y2="294.5" stroke="#444" stroke-width="0.5"/>
<line x1="62.6" y1="312.9" x2="62.6" y2="314.4" stroke="#444" stroke-width="0.5"/>
<line x1="42.3" y1="284.65" x2="43.8" y2="284.65" stroke="#444" stroke-width="0.5"/>
<line x1="73.4" y1="312.9" x2="73.4" y2="314.4" stroke="#444" stroke-width="0.5"/>
<line x1="42.3" y1="279.72" x2="43.8" y2="279.72" stroke="#444" stroke-width="0.5"/>
<line x1="78.8" y1="312.9" x2="78.8" y2="314.4" stroke="#444" stroke-width="0.5"/>
<line x1="42.3" y1="274.8" x2="43.8" y2="274.8" stroke="#444" stroke-width="0.5"/>
<line x1="84.2" y1="312.9" x2="84.2" y2="314.4" stroke="#444" stroke-width="0.5"/>
<line x1="42.3" y1="269.88" x2="43.8" y2="269.88" stroke="#444" stroke-width="0.5"/>
<line x1="89.6" y1="312.9" x2="89.6" y2="314.4" stroke="#444" stroke-width="0.5"/>
<line x1="42.3" y1="260.02" x2="43.8" y2="260.02" stroke="#444" stroke-width="0.5"/>
<line x1="100.4" y1="312.9" x2="100.4" y2="314.4" stroke="#444" stroke-width="0.5"/>
<line x1="42.3" y1="255.1" x2="43.8" y2="255.1" stroke="#444" stroke-width="0.5"/>
<line x1="105.8" y1="312.9" x2="105.8" y2="314.4" stroke="#444" stroke-width="0.5"/>
<line x1="42.3" y1="250.17" x2="43.8" y2="250.17" stroke="#444" stroke-width="0.5"/>
<line x1="111.2" y1="312.9" x2="111.2" y2="314.4" stroke="#444" stroke-width="0.5"/>
<line x1="42.3" y1="245.25" x2="43.8" y2="245.25" stroke="#444" stroke-width="0.5"/>
<line x1="116.6" y1="312.9" x2="116.6" y2="314.4" stroke="#444" stroke-width="0.5"/>
<line x1="42.3" y1="235.4" x2="43.8" y2="235.4" stroke="#444" stroke-width="0.5"/>
<line x1="127.4" y1="312.9" x2="127.4" y2="314.4" stroke="#444" stroke-width="0.5"/>
<line x1="42.3" y1="230.47" x2="43.8" y2="230.47" stroke="#444" stroke-width="0.5"/>
<line x1="132.8" y1="312.9" x2="132.8" y2="314.4" stroke="#444" stroke-width="0.5"/>
<line x1="42.3" y1="225.55" x2="43.8" y2="225.55" stroke="#444" stroke-width="0.5"/>
<line x1="138.2" y1="312.9" x2="138.2" y2="314.4" stroke="#444" stroke-width="0.5"/>
<line x1="42.3" y1="220.62" x2="43.8" y2="220.62" stroke="#444" stroke-width="0.5"/>
<line x1="143.6" y1="312.9" x2="143.6" y2="314.4" stroke="#444" stroke-width="0.5"/>
<line x1="42.3" y1="210.77" x2="43.8" y2="210.77" stroke="#444" stroke-width="0.5"/>
<line x1="154.4" y1="312.9" x2="154.4" y2="314.4" stroke="#444" stroke-width="0.5"/>
<line x1="42.3" y1="205.85" x2="43.8" y2="205.85" stroke="#444" stroke-width="0.5"/>
<line x1="159.8" y1="312.9" x2="159.8" y2="314.4" stroke="#444" stroke-width="0.5"/>
<line x1="42.3" y1="200.93" x2="43.8" y2="200.93" stroke="#444" stroke-width="0.5"/>
<line x1="165.2" y1="312.9" x2="165.2" y2="314.4" stroke="#444" stroke-width="0.5"/>
<line x1="42.3" y1="196" x2="43.8" y2="196" stroke="#444" stroke-width="0.5"/>
<line x1="170.6" y1="312.9" x2="170.6" y2="314.4" stroke="#444" stroke-width="0.5"/>
<text font-size="8.3" text-anchor="middle" x="68" y="328.5">50</text>
<text font-size="8.3" text-anchor="middle" x="94.5" y="328.5">100</text>
<text font-size="8.3" text-anchor="middle" x="121.5" y="328.5">150</text>
<text font-size="8.3" text-anchor="middle" x="148" y="328.5">200</text>
<text font-size="8.3" text-anchor="middle" x="176" y="328.5">250</text>
<text font-size="11" text-anchor="middle" textLength="23" lengthAdjust="spacingAndGlyphs" x="112.6" y="342.3">FSC-A</text>
<text font-size="8.7" text-anchor="middle" textLength="30.8" lengthAdjust="spacingAndGlyphs" x="169" y="340.7">(x 1,000)</text>
<text font-size="10.2" text-anchor="middle" textLength="22.4" lengthAdjust="spacingAndGlyphs" transform="translate(17.4 251.6) rotate(-90)">SSC-A</text>
<text font-size="8.7" text-anchor="middle" textLength="32.5" lengthAdjust="spacingAndGlyphs" transform="translate(18.3 200) rotate(-90)">(x 1,000)</text>
<line x1="68.6" y1="315.6" x2="45" y2="365" stroke="#96102f" stroke-width="1.4"/>
<line x1="170" y1="283" x2="348.8" y2="366" stroke="#96102f" stroke-width="1.4"/>
<line x1="253.2" y1="185" x2="253.2" y2="269.3" stroke="#000" stroke-width="1.1"/>
<line x1="252.7" y1="268.8" x2="302" y2="268.8" stroke="#000" stroke-width="1.1"/>
<line x1="249.2" y1="268.8" x2="253.2" y2="268.8" stroke="#000" stroke-width="1"/>
<line x1="250.5" y1="262.3" x2="253.2" y2="262.3" stroke="#000" stroke-width="0.9"/>
<line x1="250.5" y1="255.8" x2="253.2" y2="255.8" stroke="#000" stroke-width="0.9"/>
<line x1="250.5" y1="249.3" x2="253.2" y2="249.3" stroke="#000" stroke-width="0.9"/>
<line x1="250.5" y1="242.8" x2="253.2" y2="242.8" stroke="#000" stroke-width="0.9"/>
<line x1="249.2" y1="236.3" x2="253.2" y2="236.3" stroke="#000" stroke-width="1"/>
<line x1="250.5" y1="229.8" x2="253.2" y2="229.8" stroke="#000" stroke-width="0.9"/>
<line x1="250.5" y1="223.3" x2="253.2" y2="223.3" stroke="#000" stroke-width="0.9"/>
<line x1="250.5" y1="216.8" x2="253.2" y2="216.8" stroke="#000" stroke-width="0.9"/>
<line x1="250.5" y1="210.3" x2="253.2" y2="210.3" stroke="#000" stroke-width="0.9"/>
<line x1="249.2" y1="203.8" x2="253.2" y2="203.8" stroke="#000" stroke-width="1"/>
<line x1="250.5" y1="197.3" x2="253.2" y2="197.3" stroke="#000" stroke-width="0.9"/>
<line x1="250.5" y1="190.8" x2="253.2" y2="190.8" stroke="#000" stroke-width="0.9"/>
<text font-size="8.3" text-anchor="end" x="247.3" y="206.8">100</text>
<text font-size="8.3" text-anchor="end" x="247.3" y="239.3">50</text>
<text font-size="8.3" text-anchor="end" x="247.3" y="271.8">0.0</text>
<line x1="264.75" y1="197.6" x2="264.75" y2="205.5" stroke="#000" stroke-width="1.1"/>
<line x1="261.5" y1="197.6" x2="268" y2="197.6" stroke="#000" stroke-width="1.1"/>
<rect x="257.5" y="204.5" width="14.5" height="64.3" fill="#000"/>
<line x1="287.6" y1="225.6" x2="287.6" y2="231.5" stroke="#000" stroke-width="1.1"/>
<line x1="284.85" y1="225.6" x2="290.35" y2="225.6" stroke="#000" stroke-width="1.1"/>
<rect x="280.2" y="230.5" width="14.8" height="38.3" fill="#808080"/>
<line x1="253.2" y1="268.8" x2="253.2" y2="271.8" stroke="#000" stroke-width="1"/>
<line x1="276.3" y1="268.8" x2="276.3" y2="271.8" stroke="#000" stroke-width="1"/>
<line x1="299.3" y1="268.8" x2="299.3" y2="271.8" stroke="#000" stroke-width="1"/>
<circle cx="287.7" cy="219.9" r="1.1" fill="#111"/>
<text font-size="10.6" text-anchor="middle" textLength="63.8" lengthAdjust="spacingAndGlyphs" transform="translate(217.3 228) rotate(-90)">% CD34(+) cells</text>
<text font-size="10.6" text-anchor="middle" textLength="56" lengthAdjust="spacingAndGlyphs" transform="translate(229.5 228) rotate(-90)">(relative units)</text>
<line x1="363.2" y1="185" x2="363.2" y2="268.7" stroke="#000" stroke-width="1.1"/>
<line x1="362.7" y1="268.2" x2="412" y2="268.2" stroke="#000" stroke-width="1.1"/>
<line x1="359.2" y1="268.2" x2="363.2" y2="268.2" stroke="#000" stroke-width="1"/>
<line x1="360.5" y1="261.7" x2="363.2" y2="261.7" stroke="#000" stroke-width="0.9"/>
<line x1="360.5" y1="255.2" x2="363.2" y2="255.2" stroke="#000" stroke-width="0.9"/>
<line x1="360.5" y1="248.7" x2="363.2" y2="248.7" stroke="#000" stroke-width="0.9"/>
<line x1="360.5" y1="242.2" x2="363.2" y2="242.2" stroke="#000" stroke-width="0.9"/>
<line x1="359.2" y1="235.7" x2="363.2" y2="235.7" stroke="#000" stroke-width="1"/>
<line x1="360.5" y1="229.2" x2="363.2" y2="229.2" stroke="#000" stroke-width="0.9"/>
<line x1="360.5" y1="222.7" x2="363.2" y2="222.7" stroke="#000" stroke-width="0.9"/>
<line x1="360.5" y1="216.2" x2="363.2" y2="216.2" stroke="#000" stroke-width="0.9"/>
<line x1="360.5" y1="209.7" x2="363.2" y2="209.7" stroke="#000" stroke-width="0.9"/>
<line x1="359.2" y1="203.2" x2="363.2" y2="203.2" stroke="#000" stroke-width="1"/>
<line x1="360.5" y1="196.7" x2="363.2" y2="196.7" stroke="#000" stroke-width="0.9"/>
<line x1="360.5" y1="190.2" x2="363.2" y2="190.2" stroke="#000" stroke-width="0.9"/>
<text font-size="8.3" text-anchor="end" x="357.5" y="206.2">100</text>
<text font-size="8.3" text-anchor="end" x="357.5" y="238.7">50</text>
<text font-size="8.3" text-anchor="end" x="357.5" y="271.2">0.0</text>
<line x1="375.25" y1="195.6" x2="375.25" y2="207.3" stroke="#000" stroke-width="1.1"/>
<line x1="372.25" y1="195.6" x2="378.25" y2="195.6" stroke="#000" stroke-width="1.1"/>
<rect x="368" y="206.3" width="14.5" height="61.9" fill="#000"/>
<line x1="397.6" y1="254" x2="397.6" y2="256.5" stroke="#000" stroke-width="1.1"/>
<line x1="394.85" y1="254" x2="400.35" y2="254" stroke="#000" stroke-width="1.1"/>
<rect x="390.2" y="255.5" width="14.8" height="12.7" fill="#808080"/>
<line x1="363.2" y1="268.2" x2="363.2" y2="271.2" stroke="#000" stroke-width="1"/>
<line x1="386.3" y1="268.2" x2="386.3" y2="271.2" stroke="#000" stroke-width="1"/>
<line x1="409.3" y1="268.2" x2="409.3" y2="271.2" stroke="#000" stroke-width="1"/>
<circle cx="397.5" cy="248.6" r="1.1" fill="#111"/>
<text font-size="10.6" text-anchor="middle" textLength="83.5" lengthAdjust="spacingAndGlyphs" transform="translate(327.2 227.8) rotate(-90)">% EPOR (+), CD34(+)</text>
<text font-size="10.6" text-anchor="middle" textLength="74" lengthAdjust="spacingAndGlyphs" transform="translate(338.5 228) rotate(-90)">cells (relative units)</text>
<rect x="432" y="218.5" width="8" height="5.8" fill="#000"/>
<rect x="432" y="232" width="8" height="5.8" fill="#808080"/>
<text font-size="8.2" textLength="27.4" lengthAdjust="spacingAndGlyphs" x="443.2" y="224.2">(–) EPO</text>
<text font-size="8.2" textLength="27.4" lengthAdjust="spacingAndGlyphs" x="443.2" y="237.9">(+) EPO</text>
<path d="M45.2 461.5 L50.6 460 L59.1 459 L78.6 459 L84.6 461 L87.1 464.5 L88.6 477 L87.1 487.5 L83.1 493 L74.6 495.6 L45.2 495.6 Z" fill="#2b4ce4" stroke="#2b4ce4" stroke-width="0.8"/>
<path d="M53 453.5h1M59 453.5h1M64 453.5h2M71 453.5h2M76 453.5h1M46 454.5h2M50 454.5h1M56 454.5h1M60 454.5h2M64 454.5h1M67 454.5h3M73 454.5h2M76 454.5h2M79 454.5h2M45 455.5h1M48 455.5h3M57 455.5h1M61 455.5h2M64 455.5h2M70 455.5h3M84 455.5h2M87 455.5h1M46 456.5h1M48 456.5h2M52 456.5h1M54 456.5h2M57 456.5h1M60 456.5h1M62 456.5h1M64 456.5h1M67 456.5h2M70 456.5h1M72 456.5h2M75 456.5h1M77 456.5h1M81 456.5h2M87 456.5h1M45 457.5h1M47 457.5h4M52 457.5h2M55 457.5h13M69 457.5h3M73 457.5h1M75 457.5h7M83 457.5h1M85 457.5h2M88 457.5h1M45 458.5h1M49 458.5h17M67 458.5h16M85 458.5h1M87 458.5h1M89 458.5h1M45 459.5h1M47 459.5h8M80 459.5h8M45 460.5h4M83 460.5h4M90 460.5h1M85 461.5h4M91 461.5h1M86 462.5h3M90 462.5h1M92 462.5h1M86 463.5h2M89 463.5h1M87 464.5h3M91 464.5h2M87 465.5h2M93 465.5h1M87 466.5h4M87 467.5h7M88 468.5h4M88 469.5h5M88 470.5h1M90 470.5h4M88 471.5h3M88 472.5h4M88 473.5h1M90 473.5h2M94 473.5h1M88 474.5h1M92 474.5h2M88 475.5h1M90 475.5h4M89 476.5h2M92 476.5h1M89 477.5h3M88 478.5h1M90 478.5h1M93 478.5h1M88 479.5h2M88 480.5h1M90 480.5h4M88 481.5h1M90 481.5h1M88 482.5h1M90 482.5h2M88 483.5h1M92 483.5h2M88 484.5h1M88 485.5h2M91 485.5h1M93 485.5h1M87 486.5h2M87 487.5h3M86 488.5h6M86 489.5h1M88 489.5h1M90 489.5h1M85 490.5h2M90 490.5h2M84 491.5h2M87 491.5h3M83 492.5h7M81 493.5h4M87 493.5h1M78 494.5h7M86 494.5h1M88 494.5h1M76 495.5h7" stroke="#2b4ce4" stroke-width="1" fill="none"/>
<path d="M74 444.5h1M83 446.5h1M90 448.5h1M55 451.5h1M68 451.5h1M45 453.5h1M49 453.5h1M83 453.5h1M98 453.5h1M86 454.5h1M89 455.5h1M91 455.5h1M102 455.5h1M96 456.5h1M100 456.5h1M103 456.5h1M92 457.5h2M93 458.5h1M99 458.5h1M101 458.5h1M92 459.5h1M99 459.5h1M95 460.5h1M97 460.5h1M95 461.5h2M93 462.5h1M109 462.5h1M94 463.5h3M100 463.5h1M94 464.5h1M105 464.5h1M98 465.5h1M100 465.5h1M103 465.5h1M109 465.5h1M94 466.5h2M99 466.5h2M97 467.5h1M107 467.5h1M99 468.5h1M95 470.5h1M104 470.5h1M96 471.5h1M98 471.5h2M104 471.5h1M95 472.5h1M99 472.5h1M104 472.5h1M103 473.5h1M96 474.5h1M98 474.5h2M108 474.5h1M97 475.5h1M99 476.5h1M101 476.5h1M111 476.5h1M108 477.5h1M95 478.5h2M98 479.5h2M98 480.5h2M107 480.5h2M96 481.5h1M95 483.5h1M100 483.5h2M94 484.5h1M94 485.5h1M96 485.5h1M103 485.5h1M95 487.5h1M99 487.5h1M94 488.5h1M94 490.5h2M93 491.5h1M105 491.5h1M96 492.5h1M93 493.5h2M91 494.5h1" stroke="#3350d8" stroke-width="1" fill="none" stroke-opacity="0.75"/>
<path d="M73.85 494h0.8M73.25 495.2h0.8M51.14 495.07h0.8M80.82 493.5h0.8M68.82 495.56h0.8M80.25 494.44h0.8M74.56 493.39h0.8M79.96 493.06h0.8M76.91 492.79h0.8M73.98 490.08h0.8M68.99 492.81h0.8M56.8 485.47h0.8M55.74 492.95h0.8M80.98 495.44h0.8M76.51 494.5h0.8M55.79 494.53h0.8M50.16 495.43h0.8M79.5 488.96h0.8M46.71 495.34h0.8M69.91 494.03h0.8M73.09 493.72h0.8M62.35 491.28h0.8M80.92 494.22h0.8M70.75 494.41h0.8M83.92 494.05h0.8M72.46 492.43h0.8M67.4 489.26h0.8M49.26 495.15h0.8M79.69 492.05h0.8M50.66 494.56h0.8M56.68 493.32h0.8M70.84 490.22h0.8M72.19 494.55h0.8M81.37 494.94h0.8M82.15 495.22h0.8M81.21 493.02h0.8M76.22 490.38h0.8M60.71 495.13h0.8M73.7 493.64h0.8M52.11 494.36h0.8M58.53 495.55h0.8M84.06 493.32h0.8M70.5 494.42h0.8M81.49 489.1h0.8M52.51 495.55h0.8M68.96 487.43h0.8M53.19 495.32h0.8M73.05 493.73h0.8M81.43 492.55h0.8M62.79 482.74h0.8M46.87 494.38h0.8M58.84 494.46h0.8M49.5 493.2h0.8M63.58 491.1h0.8M76.67 493.84h0.8M83.5 487.03h0.8M56.77 493.86h0.8M51.87 490.48h0.8M47.99 489.25h0.8M57.89 493.56h0.8M56 495.54h0.8M54.08 493.29h0.8M79.81 490.33h0.8M57.07 493.01h0.8M52.23 494.49h0.8M51.94 493.92h0.8M73.76 490.89h0.8M62.55 495.58h0.8M60.95 495h0.8M72.98 494.56h0.8" stroke="#fff" stroke-width="0.8" fill="none" stroke-opacity="0.8"/>
<path d="M106.3 446.27h1M83.55 430.25h1M84.04 441.53h1M55.77 425.8h1M52.43 450.45h1M80.33 424.45h1M89.59 420.42h1M65.84 446.69h1M86.55 447.13h1M57.25 421.47h1M69.4 441.72h1M83.75 442.27h1M71.45 435.21h1M79.48 436.66h1M93.86 424.92h1M63.21 431.57h1M90.9 429.96h1M106.24 441.13h1M99.54 438.04h1M75.49 422.84h1M90.02 422.26h1M58.58 434.09h1M94.32 434.94h1M95.67 445.29h1M66.04 439.32h1M75.76 448.17h1M88.23 439.11h1M91.03 450.77h1M89.05 446.59h1M95.7 445.81h1M100.82 439.56h1M80.87 431.02h1M50.19 450.2h1M98.6 432.84h1M58.31 426.73h1M84.21 448.87h1M93.91 449.43h1M98.66 450.14h1M84.23 433.2h1M89.72 442.31h1M106.39 451.03h1M96.79 449.87h1M70.03 443.41h1M104.95 450.87h1M92.07 425.88h1M71.13 448.23h1M69.53 425.04h1M79.38 451.06h1M83.08 444.23h1M100.53 419.03h1M80.15 449.17h1M93.78 451.05h1M73.12 423.7h1M80.84 425.69h1M72.47 438.71h1M76.48 449.69h1M93.17 445.58h1M66.72 440.63h1M81.98 417.28h1M95.36 447.74h1M49.63 431.96h1M77.44 429.9h1M96.91 422.06h1M90.94 431.38h1M99.04 443.04h1M68.34 440.71h1M88.74 439.5h1M71.5 435.04h1M56.4 437.33h1M97.59 450.12h1M70.93 426.83h1M94.89 443.38h1M96.83 433.52h1M98.59 445.06h1M70.39 440.53h1M98.38 415.53h1M67.53 451.24h1M91.37 432.89h1M49.44 448.35h1M97.56 417.72h1M54.67 424.54h1M94.15 423.98h1M89.7 423.7h1M54.65 444.04h1M87.06 438.33h1M93.53 419.42h1M98.67 439.66h1M107.2 418.5h1M67.24 424.87h1M78.4 439.02h1M75 437.53h1M91.25 437.8h1M63.98 446.28h1M85.81 443.85h1M67.15 441.23h1M65.19 437.29h1M95.98 421.79h1M85.2 439.16h1M97.21 436.27h1M91.27 429.9h1M100.82 425.57h1M81.24 416.76h1M49.92 428.44h1M108.09 434.62h1M66.59 429.44h1M99.47 449.76h1M64.61 428.42h1M83.15 447.61h1M70.31 421.56h1M90.97 421.98h1M56 433.37h1M55.42 418.59h1M80.43 450.88h1M100.73 450.55h1M80.67 438.73h1M58.95 448.12h1M107.76 451.18h1M58.04 417.46h1M71.62 441.54h1M86.14 423.58h1M96.26 433.88h1M99.42 421.81h1M82.35 465.54h1M93.31 424.46h1M75.41 451.94h1M87.56 449.2h1M93.81 437.76h1M79.01 440.49h1M82.88 439.22h1M84.23 441.42h1M112.49 427.68h1M103.5 425.18h1M110.8 433.62h1M91.9 433.92h1M76.5 448.94h1M85.95 424.65h1M80.7 440.03h1M95.4 440.25h1M96.28 434.03h1M80.32 446.16h1M100.28 443.08h1M80.87 455.28h1M90.34 438.93h1M78.02 446.31h1M87.21 438.16h1M90.86 432.54h1M97.74 436.85h1M88.8 428.11h1M93 447.97h1M67.72 433.74h1M101.09 437.92h1M88.34 438.87h1M90.75 437.66h1M104.18 439.37h1M100.85 431.51h1M115.68 433.94h1M126.78 443.46h1M105.91 450.84h1M140.8 434.64h1M110.49 446.24h1M132.14 451.45h1M156 448.05h1M120.14 416.69h1M112.39 425.79h1M140.73 451.05h1M108.22 435.7h1M125.93 448.47h1M110.24 431.78h1M133.76 451.12h1M117.26 443.49h1M106.84 448.44h1M109.86 444.47h1M113.45 419.07h1M107.3 438.06h1M115.3 443.74h1M128.72 452.07h1M112.83 451.88h1M108.09 418.72h1M172.42 425.84h1M143.36 450.52h1M125.7 448.81h1M116.95 387.61h1M125.37 442.37h1M130.02 444.56h1M118.67 436.44h1M136.23 417.67h1M153.49 418.45h1M112.18 445.99h1M149.93 450.39h1M116.99 432.55h1M130.15 443.15h1M174.47 444.97h1M136.59 436.34h1M144.35 414.49h1M117.79 427.22h1M130.2 441.86h1M178.11 441.37h1M111.22 428.9h1M109.83 436.38h1M117.97 437.13h1M141.31 439.68h1M135.38 435.82h1M131.41 448.46h1M126.41 432.73h1M170.8 447.96h1M124.49 446.62h1M108 447.59h1M107.85 423.47h1M121.14 451.37h1M116.52 444.46h1M120 443.31h1M122.45 444.6h1M115.83 444.74h1M109.49 439.99h1M115.5 438.51h1M113.06 448.44h1M115.16 446.82h1M113.08 444.37h1M117.8 443.4h1M113.67 448.99h1M115.52 442.57h1M119.05 443.28h1M112.83 447.63h1M113.71 444.8h1M116.44 445.74h1M116.82 444.76h1M111.66 444.32h1M116.43 440.2h1M112.06 443.06h1M113.96 448.37h1M109.98 443.97h1M121.2 440.34h1M137.29 459.32h1M116.08 456.67h1M166.94 461.65h1M114.58 460.06h1M145.02 460.81h1M177.09 467.87h1M119.36 464.24h1M158.54 478.87h1M139.62 459.99h1M169.72 478.07h1M170.01 486.57h1M140.06 468.69h1M137.84 482.41h1M161.9 455.36h1M157.22 460.12h1M127.47 455.54h1M176.96 468.43h1M140.39 464.08h1M121.69 468.01h1M132.21 459.18h1M132.64 454.64h1M140.07 480.15h1M128.54 489.04h1M136.93 458.04h1M179.55 479.16h1M181.27 463.08h1M122.34 479.3h1M125.96 472.95h1M130.92 479.97h1M120.66 491.78h1M120.06 460.76h1M138.97 486.05h1M133.79 458.45h1M111.35 481.86h1M141.73 457.17h1M138.09 458.31h1M177.65 465.96h1M168.95 458.5h1M151.38 482.46h1M141.94 454.68h1M113.3 462.9h1M151.57 471.66h1M176 482.14h1M178.9 491.01h1M175.66 470.18h1M159.31 458.09h1M128.5 459.12h1M117.44 473.36h1M120.09 456.9h1M132.12 484.4h1M113.49 484.18h1M125.73 478.5h1M179.45 490.78h1M159.98 466.73h1M156.41 490.18h1M115.99 458.29h1M140.63 459.96h1M139.45 469.98h1M175.35 486.48h1M153.66 454.36h1M125.47 484.87h1M122.54 463.85h1M112.97 485.22h1M140.02 484.93h1M150.21 486.43h1M132.47 471.34h1M176.49 456.26h1M160.48 461.39h1M143.99 463.19h1M132.24 475.09h1M152.59 462.67h1M155.41 468.32h1M159.09 463.43h1M126.33 473.8h1M132.77 457.04h1" stroke="#3a52d6" stroke-width="1" fill="none" stroke-opacity="0.72"/>
<rect x="44.6" y="367.5" width="139.8" height="129.4" fill="none" stroke="#000" stroke-width="1.5"/>
<line x1="44.6" y1="452.3" x2="106.4" y2="452.3" stroke="#000" stroke-width="1.5"/>
<line x1="106.4" y1="452.3" x2="106.4" y2="496.9" stroke="#000" stroke-width="1.5"/>
<line x1="106.4" y1="367.5" x2="106.4" y2="373.5" stroke="#000" stroke-width="1.5"/>
<path d="M184.3 373.4 V452.3 H106.4 V373.4 Z" fill="none" stroke="#96102f" stroke-width="1.4"/>
<line x1="41.7" y1="380.5" x2="44.6" y2="380.5" stroke="#000" stroke-width="1.1"/>
<text font-size="8.2" text-anchor="end" textLength="11.4" lengthAdjust="spacingAndGlyphs" x="38.6" y="383.7">10<tspan dy="-3.2" font-size="5.8">5</tspan></text>
<line x1="41.7" y1="413.5" x2="44.6" y2="413.5" stroke="#000" stroke-width="1.1"/>
<text font-size="8.2" text-anchor="end" textLength="11.4" lengthAdjust="spacingAndGlyphs" x="38.6" y="416.7">10<tspan dy="-3.2" font-size="5.8">4</tspan></text>
<line x1="41.7" y1="446" x2="44.6" y2="446" stroke="#000" stroke-width="1.1"/>
<text font-size="8.2" text-anchor="end" textLength="11.4" lengthAdjust="spacingAndGlyphs" x="38.6" y="449.2">10<tspan dy="-3.2" font-size="5.8">3</tspan></text>
<line x1="41.7" y1="478.2" x2="44.6" y2="478.2" stroke="#000" stroke-width="1.1"/>
<text font-size="8.2" text-anchor="end" textLength="11.4" lengthAdjust="spacingAndGlyphs" x="38.6" y="481.4">10<tspan dy="-3.2" font-size="5.8">2</tspan></text>
<line x1="64.6" y1="496.9" x2="64.6" y2="499.8" stroke="#000" stroke-width="1.1"/>
<text font-size="8.2" text-anchor="middle" textLength="11.4" lengthAdjust="spacingAndGlyphs" x="65" y="510.4">10<tspan dy="-3.2" font-size="5.8">2</tspan></text>
<line x1="99.6" y1="496.9" x2="99.6" y2="499.8" stroke="#000" stroke-width="1.1"/>
<text font-size="8.2" text-anchor="middle" textLength="11.4" lengthAdjust="spacingAndGlyphs" x="100" y="510.4">10<tspan dy="-3.2" font-size="5.8">3</tspan></text>
<line x1="134.6" y1="496.9" x2="134.6" y2="499.8" stroke="#000" stroke-width="1.1"/>
<text font-size="8.2" text-anchor="middle" textLength="11.4" lengthAdjust="spacingAndGlyphs" x="135" y="510.4">10<tspan dy="-3.2" font-size="5.8">4</tspan></text>
<line x1="169.6" y1="496.9" x2="169.6" y2="499.8" stroke="#000" stroke-width="1.1"/>
<text font-size="8.2" text-anchor="middle" textLength="11.4" lengthAdjust="spacingAndGlyphs" x="170" y="510.4">10<tspan dy="-3.2" font-size="5.8">5</tspan></text>
<line x1="43" y1="495.19" x2="44.6" y2="495.19" stroke="#222" stroke-width="0.6"/>
<line x1="46.3" y1="496.9" x2="46.3" y2="498.5" stroke="#222" stroke-width="0.6"/>
<line x1="43" y1="491.13" x2="44.6" y2="491.13" stroke="#222" stroke-width="0.6"/>
<line x1="50.67" y1="496.9" x2="50.67" y2="498.5" stroke="#222" stroke-width="0.6"/>
<line x1="43" y1="487.98" x2="44.6" y2="487.98" stroke="#222" stroke-width="0.6"/>
<line x1="54.06" y1="496.9" x2="54.06" y2="498.5" stroke="#222" stroke-width="0.6"/>
<line x1="43" y1="485.41" x2="44.6" y2="485.41" stroke="#222" stroke-width="0.6"/>
<line x1="56.84" y1="496.9" x2="56.84" y2="498.5" stroke="#222" stroke-width="0.6"/>
<line x1="43" y1="483.23" x2="44.6" y2="483.23" stroke="#222" stroke-width="0.6"/>
<line x1="59.18" y1="496.9" x2="59.18" y2="498.5" stroke="#222" stroke-width="0.6"/>
<line x1="43" y1="481.35" x2="44.6" y2="481.35" stroke="#222" stroke-width="0.6"/>
<line x1="61.21" y1="496.9" x2="61.21" y2="498.5" stroke="#222" stroke-width="0.6"/>
<line x1="43" y1="479.69" x2="44.6" y2="479.69" stroke="#222" stroke-width="0.6"/>
<line x1="63" y1="496.9" x2="63" y2="498.5" stroke="#222" stroke-width="0.6"/>
<line x1="43" y1="468.42" x2="44.6" y2="468.42" stroke="#222" stroke-width="0.6"/>
<line x1="75.14" y1="496.9" x2="75.14" y2="498.5" stroke="#222" stroke-width="0.6"/>
<line x1="43" y1="462.69" x2="44.6" y2="462.69" stroke="#222" stroke-width="0.6"/>
<line x1="81.3" y1="496.9" x2="81.3" y2="498.5" stroke="#222" stroke-width="0.6"/>
<line x1="43" y1="458.63" x2="44.6" y2="458.63" stroke="#222" stroke-width="0.6"/>
<line x1="85.67" y1="496.9" x2="85.67" y2="498.5" stroke="#222" stroke-width="0.6"/>
<line x1="43" y1="455.48" x2="44.6" y2="455.48" stroke="#222" stroke-width="0.6"/>
<line x1="89.06" y1="496.9" x2="89.06" y2="498.5" stroke="#222" stroke-width="0.6"/>
<line x1="43" y1="452.91" x2="44.6" y2="452.91" stroke="#222" stroke-width="0.6"/>
<line x1="91.84" y1="496.9" x2="91.84" y2="498.5" stroke="#222" stroke-width="0.6"/>
<line x1="43" y1="450.73" x2="44.6" y2="450.73" stroke="#222" stroke-width="0.6"/>
<line x1="94.18" y1="496.9" x2="94.18" y2="498.5" stroke="#222" stroke-width="0.6"/>
<line x1="43" y1="448.85" x2="44.6" y2="448.85" stroke="#222" stroke-width="0.6"/>
<line x1="96.21" y1="496.9" x2="96.21" y2="498.5" stroke="#222" stroke-width="0.6"/>
<line x1="43" y1="447.19" x2="44.6" y2="447.19" stroke="#222" stroke-width="0.6"/>
<line x1="98" y1="496.9" x2="98" y2="498.5" stroke="#222" stroke-width="0.6"/>
<line x1="43" y1="435.92" x2="44.6" y2="435.92" stroke="#222" stroke-width="0.6"/>
<line x1="110.14" y1="496.9" x2="110.14" y2="498.5" stroke="#222" stroke-width="0.6"/>
<line x1="43" y1="430.19" x2="44.6" y2="430.19" stroke="#222" stroke-width="0.6"/>
<line x1="116.3" y1="496.9" x2="116.3" y2="498.5" stroke="#222" stroke-width="0.6"/>
<line x1="43" y1="426.13" x2="44.6" y2="426.13" stroke="#222" stroke-width="0.6"/>
<line x1="120.67" y1="496.9" x2="120.67" y2="498.5" stroke="#222" stroke-width="0.6"/>
<line x1="43" y1="422.98" x2="44.6" y2="422.98" stroke="#222" stroke-width="0.6"/>
<line x1="124.06" y1="496.9" x2="124.06" y2="498.5" stroke="#222" stroke-width="0.6"/>
<line x1="43" y1="420.41" x2="44.6" y2="420.41" stroke="#222" stroke-width="0.6"/>
<line x1="126.84" y1="496.9" x2="126.84" y2="498.5" stroke="#222" stroke-width="0.6"/>
<line x1="43" y1="418.23" x2="44.6" y2="418.23" stroke="#222" stroke-width="0.6"/>
<line x1="129.18" y1="496.9" x2="129.18" y2="498.5" stroke="#222" stroke-width="0.6"/>
<line x1="43" y1="416.35" x2="44.6" y2="416.35" stroke="#222" stroke-width="0.6"/>
<line x1="131.21" y1="496.9" x2="131.21" y2="498.5" stroke="#222" stroke-width="0.6"/>
<line x1="43" y1="414.69" x2="44.6" y2="414.69" stroke="#222" stroke-width="0.6"/>
<line x1="133" y1="496.9" x2="133" y2="498.5" stroke="#222" stroke-width="0.6"/>
<line x1="43" y1="403.42" x2="44.6" y2="403.42" stroke="#222" stroke-width="0.6"/>
<line x1="145.14" y1="496.9" x2="145.14" y2="498.5" stroke="#222" stroke-width="0.6"/>
<line x1="43" y1="397.69" x2="44.6" y2="397.69" stroke="#222" stroke-width="0.6"/>
<line x1="151.3" y1="496.9" x2="151.3" y2="498.5" stroke="#222" stroke-width="0.6"/>
<line x1="43" y1="393.63" x2="44.6" y2="393.63" stroke="#222" stroke-width="0.6"/>
<line x1="155.67" y1="496.9" x2="155.67" y2="498.5" stroke="#222" stroke-width="0.6"/>
<line x1="43" y1="390.48" x2="44.6" y2="390.48" stroke="#222" stroke-width="0.6"/>
<line x1="159.06" y1="496.9" x2="159.06" y2="498.5" stroke="#222" stroke-width="0.6"/>
<line x1="43" y1="387.91" x2="44.6" y2="387.91" stroke="#222" stroke-width="0.6"/>
<line x1="161.84" y1="496.9" x2="161.84" y2="498.5" stroke="#222" stroke-width="0.6"/>
<line x1="43" y1="385.73" x2="44.6" y2="385.73" stroke="#222" stroke-width="0.6"/>
<line x1="164.18" y1="496.9" x2="164.18" y2="498.5" stroke="#222" stroke-width="0.6"/>
<line x1="43" y1="383.85" x2="44.6" y2="383.85" stroke="#222" stroke-width="0.6"/>
<line x1="166.21" y1="496.9" x2="166.21" y2="498.5" stroke="#222" stroke-width="0.6"/>
<line x1="43" y1="382.19" x2="44.6" y2="382.19" stroke="#222" stroke-width="0.6"/>
<line x1="168" y1="496.9" x2="168" y2="498.5" stroke="#222" stroke-width="0.6"/>
<line x1="43" y1="370.92" x2="44.6" y2="370.92" stroke="#222" stroke-width="0.6"/>
<line x1="180.14" y1="496.9" x2="180.14" y2="498.5" stroke="#222" stroke-width="0.6"/>
<text font-size="8.5" text-anchor="middle" x="82.8" y="436.8">Q1</text>
<text font-size="8.5" text-anchor="middle" x="127.4" y="436.8">Q2</text>
<text font-size="8.5" text-anchor="middle" x="83.6" y="479" fill="#16246e">Q3</text>
<text font-size="8.5" text-anchor="middle" x="127.4" y="479">Q4</text>
<text font-size="9.8" font-weight="bold" textLength="32" lengthAdjust="spacingAndGlyphs" x="95.5" y="363.1" fill="#000">(–)EPO</text>
<path d="M210 459.8 L217.4 459.6 L229.4 459 L239.4 457.6 L246.4 460.5 L250.4 466 L252.4 475 L250.9 485 L246.4 492.5 L237.4 495.6 L210 495.6 Z" fill="#2b4ce4" stroke="#2b4ce4" stroke-width="0.8"/>
<path d="M223 453.5h2M227 453.5h1M229 453.5h2M234 453.5h3M217 454.5h1M220 454.5h4M225 454.5h1M229 454.5h2M232 454.5h2M235 454.5h2M238 454.5h1M210 455.5h3M214 455.5h1M216 455.5h1M218 455.5h1M220 455.5h4M226 455.5h1M229 455.5h1M232 455.5h2M235 455.5h7M243 455.5h1M248 455.5h1M211 456.5h5M217 456.5h3M222 456.5h5M228 456.5h1M230 456.5h3M234 456.5h1M236 456.5h1M238 456.5h3M242 456.5h1M246 456.5h1M248 456.5h1M210 457.5h2M213 457.5h1M216 457.5h2M220 457.5h2M224 457.5h1M226 457.5h2M229 457.5h2M232 457.5h1M234 457.5h15M210 458.5h1M212 458.5h4M218 458.5h15M242 458.5h1M244 458.5h3M249 458.5h2M252 458.5h1M210 459.5h9M244 459.5h4M250 459.5h1M246 460.5h2M250 460.5h1M254 460.5h1M247 461.5h6M254 461.5h1M248 462.5h4M254 462.5h2M249 463.5h2M253 463.5h1M255 463.5h1M249 464.5h1M251 464.5h1M253 464.5h2M256 464.5h1M250 465.5h5M251 466.5h2M254 466.5h3M251 467.5h4M251 468.5h3M256 468.5h2M251 469.5h2M254 469.5h3M251 470.5h2M255 470.5h1M257 470.5h1M252 471.5h2M252 472.5h2M255 472.5h1M252 473.5h4M252 474.5h2M252 475.5h4M252 476.5h2M257 476.5h1M252 477.5h2M257 477.5h1M252 478.5h2M256 478.5h1M252 479.5h3M256 479.5h1M252 480.5h3M251 481.5h3M255 481.5h1M251 482.5h3M255 482.5h1M251 483.5h2M256 483.5h2M251 484.5h1M254 484.5h1M251 485.5h1M254 485.5h1M256 485.5h1M250 486.5h6M249 487.5h4M249 488.5h3M255 488.5h1M248 489.5h3M252 489.5h1M254 489.5h1M248 490.5h3M253 490.5h1M247 491.5h4M254 491.5h1M246 492.5h4M251 492.5h1M243 493.5h5M249 493.5h4M241 494.5h2M246 494.5h3M238 495.5h4M243 495.5h4M249 495.5h1M251 495.5h1" stroke="#2b4ce4" stroke-width="1" fill="none"/>
<path d="M223 450.5h1M241 450.5h1M245 450.5h1M254 451.5h1M213 452.5h1M253 452.5h1M212 453.5h1M247 453.5h1M260 453.5h1M265 453.5h1M249 454.5h1M252 454.5h1M254 454.5h1M262 454.5h1M267 454.5h1M254 455.5h1M259 455.5h1M273 455.5h1M251 456.5h2M257 456.5h1M261 456.5h1M254 457.5h1M261 457.5h1M254 458.5h2M257 458.5h1M259 458.5h1M267 458.5h1M273 458.5h1M254 459.5h2M257 459.5h2M263 459.5h1M267 459.5h1M255 460.5h3M260 460.5h6M267 460.5h1M255 461.5h2M261 461.5h1M263 461.5h1M272 461.5h1M256 462.5h2M264 462.5h1M257 463.5h2M260 463.5h3M274 463.5h1M257 464.5h1M259 464.5h1M261 464.5h2M267 464.5h2M262 465.5h1M265 465.5h2M273 465.5h1M259 466.5h1M261 466.5h3M260 467.5h2M258 468.5h1M261 468.5h1M265 468.5h2M265 469.5h2M260 470.5h2M259 471.5h1M261 471.5h2M266 471.5h1M259 472.5h1M264 472.5h1M266 472.5h1M277 472.5h1M262 473.5h1M258 476.5h1M268 477.5h1M272 479.5h1M258 481.5h1M258 483.5h1M261 483.5h1M266 483.5h1M259 484.5h1M258 487.5h1M259 488.5h1M258 489.5h1M261 489.5h1M260 490.5h2M256 491.5h1M255 492.5h1M260 492.5h1M255 493.5h1M252 495.5h1M257 495.5h1" stroke="#3350d8" stroke-width="1" fill="none" stroke-opacity="0.75"/>
<path d="M217.12 495.52h0.8M232.18 492.45h0.8M213.17 492.22h0.8M227.2 495.13h0.8M237.14 492.6h0.8M233.66 494.61h0.8M225.34 494.79h0.8M242.53 493.74h0.8M230.95 490.55h0.8M223.33 494.99h0.8M228.38 493.85h0.8M248.88 494.08h0.8M215.51 493.41h0.8M234.2 495.6h0.8M231.51 494.54h0.8M241.99 491.81h0.8M232.97 495.33h0.8M233.03 494.27h0.8M213.15 493.06h0.8M237.75 490.29h0.8M232.69 494.74h0.8M236.38 494.55h0.8M217.53 494.53h0.8M217.88 494.7h0.8M216.38 494.7h0.8M246.29 486.49h0.8M232.34 494.92h0.8M246.36 494.35h0.8M211.91 495.49h0.8M237.73 489.48h0.8M243.7 494.56h0.8M217.2 493.99h0.8M247.83 489.37h0.8M228.41 495.31h0.8M214.12 495.33h0.8M229.87 488.52h0.8M222.93 488.53h0.8M242.02 495.35h0.8M222.04 492.73h0.8M221.14 493.42h0.8M229.55 494.75h0.8M212.45 494.06h0.8M228.29 492.35h0.8M242.19 494.45h0.8M248.69 489.83h0.8M224.27 494.71h0.8M211.44 490.43h0.8M229.59 492.99h0.8M236.54 495.48h0.8M238.85 492.1h0.8M247.95 494.56h0.8M245.07 493.04h0.8M235.09 495.52h0.8M248.56 495h0.8M231.12 494.25h0.8M230.86 491.08h0.8M229.35 493.47h0.8M234.65 493.86h0.8M233.08 494.44h0.8M243.36 491.05h0.8M220.92 494.29h0.8M240.01 494.32h0.8M245.85 494.9h0.8M212.66 492.6h0.8M217.43 494.59h0.8M231.78 494.18h0.8M222.56 495.14h0.8M212.73 493.14h0.8M216.32 492.23h0.8M219.96 493.23h0.8" stroke="#fff" stroke-width="0.8" fill="none" stroke-opacity="0.8"/>
<path d="M266.72 451.14h1M254.34 451.72h1M261.25 449.81h1M246.99 452.27h1M246.6 451.73h1M268.37 452.02h1M258.42 451.78h1M258.05 451.87h1M243.89 447.07h1M257.67 448.51h1M242.74 439.61h1M247.92 448.89h1M250.22 450.36h1M242.59 447.45h1M287.02 443.67h1M288.39 443.39h1M283.66 449.04h1M300.2 443.89h1M285.94 441.16h1M282.63 445.91h1M300.08 446.35h1M287.92 458.45h1M337.71 476.7h1M313.54 470.08h1M291.83 463.83h1M286.77 471.43h1M314.81 454.83h1M297.27 482.6h1M281.55 458.3h1M311.67 466.22h1M332.44 477.52h1M301.66 455.47h1M282.45 465.6h1M282.31 474.69h1M273.83 481.3h1M289.81 463.06h1M287.24 461.72h1M283.35 464.25h1M307.25 458.24h1M296.85 469.85h1M288.31 468.9h1M303.3 488.81h1M297.37 476.21h1M302.53 474.75h1M294.36 455.13h1M322.67 477.16h1M286.56 462.19h1M317.91 463.67h1M311.78 477.33h1M345.51 462.54h1M310.72 464.91h1M323.19 466.13h1M345.78 487.91h1M297.83 459.11h1M306.41 483.21h1M282.82 492.27h1M326.26 460.2h1M282.82 464.84h1M279.35 454.64h1M290.02 467.9h1M289.17 468.61h1M327.29 457.14h1M336.04 456.09h1M286.81 464.86h1M345.46 460.32h1M329.7 468.61h1M313.9 469.14h1M328.98 475.84h1M325.54 463.41h1M296.71 454.39h1M317.57 462.92h1M275.13 455.79h1M323.59 491.67h1M311.9 478.86h1M344.69 460.09h1M279.84 461.47h1M322.64 469.66h1M293.9 460.86h1M336.37 466.97h1M311.83 462.65h1M295.96 477.55h1M284.43 476.69h1M320.35 468.87h1M306.32 485.54h1M302.1 479.17h1M294.52 486.32h1M293.53 464.34h1M318.34 454.47h1M303.56 462.91h1M344.75 455.52h1M311.34 482.34h1M298.44 470.72h1M303.05 460.56h1M298.83 480.81h1M297.62 464.57h1M320.76 462.81h1M330.08 470.27h1M292.89 488.84h1M327.83 477.64h1M295.15 456.05h1M285.96 463.28h1M275.37 456.31h1M294.41 454.71h1M332.3 491.62h1M277.65 454.31h1M275 464.46h1M305.03 482.38h1M277.37 460.29h1M312.12 458.49h1M284.38 478.49h1M303.36 474.03h1" stroke="#3a52d6" stroke-width="1" fill="none" stroke-opacity="0.72"/>
<rect x="209.4" y="367.5" width="139.4" height="129.4" fill="none" stroke="#000" stroke-width="1.5"/>
<line x1="209.4" y1="452.3" x2="271.2" y2="452.3" stroke="#000" stroke-width="1.5"/>
<line x1="271.2" y1="452.3" x2="271.2" y2="496.9" stroke="#000" stroke-width="1.5"/>
<line x1="271.2" y1="367.5" x2="271.2" y2="373.5" stroke="#000" stroke-width="1.5"/>
<path d="M348.7 373.4 V452.3 H271.2 V373.4 Z" fill="none" stroke="#96102f" stroke-width="1.4"/>
<line x1="206.5" y1="380.5" x2="209.4" y2="380.5" stroke="#000" stroke-width="1.1"/>
<text font-size="8.2" text-anchor="end" textLength="11.4" lengthAdjust="spacingAndGlyphs" x="203.4" y="383.7">10<tspan dy="-3.2" font-size="5.8">5</tspan></text>
<line x1="206.5" y1="413.5" x2="209.4" y2="413.5" stroke="#000" stroke-width="1.1"/>
<text font-size="8.2" text-anchor="end" textLength="11.4" lengthAdjust="spacingAndGlyphs" x="203.4" y="416.7">10<tspan dy="-3.2" font-size="5.8">4</tspan></text>
<line x1="206.5" y1="446" x2="209.4" y2="446" stroke="#000" stroke-width="1.1"/>
<text font-size="8.2" text-anchor="end" textLength="11.4" lengthAdjust="spacingAndGlyphs" x="203.4" y="449.2">10<tspan dy="-3.2" font-size="5.8">3</tspan></text>
<line x1="206.5" y1="478.2" x2="209.4" y2="478.2" stroke="#000" stroke-width="1.1"/>
<text font-size="8.2" text-anchor="end" textLength="11.4" lengthAdjust="spacingAndGlyphs" x="203.4" y="481.4">10<tspan dy="-3.2" font-size="5.8">2</tspan></text>
<line x1="229.4" y1="496.9" x2="229.4" y2="499.8" stroke="#000" stroke-width="1.1"/>
<text font-size="8.2" text-anchor="middle" textLength="11.4" lengthAdjust="spacingAndGlyphs" x="229.8" y="510.4">10<tspan dy="-3.2" font-size="5.8">2</tspan></text>
<line x1="264.4" y1="496.9" x2="264.4" y2="499.8" stroke="#000" stroke-width="1.1"/>
<text font-size="8.2" text-anchor="middle" textLength="11.4" lengthAdjust="spacingAndGlyphs" x="264.8" y="510.4">10<tspan dy="-3.2" font-size="5.8">3</tspan></text>
<line x1="299.4" y1="496.9" x2="299.4" y2="499.8" stroke="#000" stroke-width="1.1"/>
<text font-size="8.2" text-anchor="middle" textLength="11.4" lengthAdjust="spacingAndGlyphs" x="299.8" y="510.4">10<tspan dy="-3.2" font-size="5.8">4</tspan></text>
<line x1="334.4" y1="496.9" x2="334.4" y2="499.8" stroke="#000" stroke-width="1.1"/>
<text font-size="8.2" text-anchor="middle" textLength="11.4" lengthAdjust="spacingAndGlyphs" x="334.8" y="510.4">10<tspan dy="-3.2" font-size="5.8">5</tspan></text>
<line x1="207.8" y1="495.19" x2="209.4" y2="495.19" stroke="#222" stroke-width="0.6"/>
<line x1="211.1" y1="496.9" x2="211.1" y2="498.5" stroke="#222" stroke-width="0.6"/>
<line x1="207.8" y1="491.13" x2="209.4" y2="491.13" stroke="#222" stroke-width="0.6"/>
<line x1="215.47" y1="496.9" x2="215.47" y2="498.5" stroke="#222" stroke-width="0.6"/>
<line x1="207.8" y1="487.98" x2="209.4" y2="487.98" stroke="#222" stroke-width="0.6"/>
<line x1="218.86" y1="496.9" x2="218.86" y2="498.5" stroke="#222" stroke-width="0.6"/>
<line x1="207.8" y1="485.41" x2="209.4" y2="485.41" stroke="#222" stroke-width="0.6"/>
<line x1="221.64" y1="496.9" x2="221.64" y2="498.5" stroke="#222" stroke-width="0.6"/>
<line x1="207.8" y1="483.23" x2="209.4" y2="483.23" stroke="#222" stroke-width="0.6"/>
<line x1="223.98" y1="496.9" x2="223.98" y2="498.5" stroke="#222" stroke-width="0.6"/>
<line x1="207.8" y1="481.35" x2="209.4" y2="481.35" stroke="#222" stroke-width="0.6"/>
<line x1="226.01" y1="496.9" x2="226.01" y2="498.5" stroke="#222" stroke-width="0.6"/>
<line x1="207.8" y1="479.69" x2="209.4" y2="479.69" stroke="#222" stroke-width="0.6"/>
<line x1="227.8" y1="496.9" x2="227.8" y2="498.5" stroke="#222" stroke-width="0.6"/>
<line x1="207.8" y1="468.42" x2="209.4" y2="468.42" stroke="#222" stroke-width="0.6"/>
<line x1="239.94" y1="496.9" x2="239.94" y2="498.5" stroke="#222" stroke-width="0.6"/>
<line x1="207.8" y1="462.69" x2="209.4" y2="462.69" stroke="#222" stroke-width="0.6"/>
<line x1="246.1" y1="496.9" x2="246.1" y2="498.5" stroke="#222" stroke-width="0.6"/>
<line x1="207.8" y1="458.63" x2="209.4" y2="458.63" stroke="#222" stroke-width="0.6"/>
<line x1="250.47" y1="496.9" x2="250.47" y2="498.5" stroke="#222" stroke-width="0.6"/>
<line x1="207.8" y1="455.48" x2="209.4" y2="455.48" stroke="#222" stroke-width="0.6"/>
<line x1="253.86" y1="496.9" x2="253.86" y2="498.5" stroke="#222" stroke-width="0.6"/>
<line x1="207.8" y1="452.91" x2="209.4" y2="452.91" stroke="#222" stroke-width="0.6"/>
<line x1="256.64" y1="496.9" x2="256.64" y2="498.5" stroke="#222" stroke-width="0.6"/>
<line x1="207.8" y1="450.73" x2="209.4" y2="450.73" stroke="#222" stroke-width="0.6"/>
<line x1="258.98" y1="496.9" x2="258.98" y2="498.5" stroke="#222" stroke-width="0.6"/>
<line x1="207.8" y1="448.85" x2="209.4" y2="448.85" stroke="#222" stroke-width="0.6"/>
<line x1="261.01" y1="496.9" x2="261.01" y2="498.5" stroke="#222" stroke-width="0.6"/>
<line x1="207.8" y1="447.19" x2="209.4" y2="447.19" stroke="#222" stroke-width="0.6"/>
<line x1="262.8" y1="496.9" x2="262.8" y2="498.5" stroke="#222" stroke-width="0.6"/>
<line x1="207.8" y1="435.92" x2="209.4" y2="435.92" stroke="#222" stroke-width="0.6"/>
<line x1="274.94" y1="496.9" x2="274.94" y2="498.5" stroke="#222" stroke-width="0.6"/>
<line x1="207.8" y1="430.19" x2="209.4" y2="430.19" stroke="#222" stroke-width="0.6"/>
<line x1="281.1" y1="496.9" x2="281.1" y2="498.5" stroke="#222" stroke-width="0.6"/>
<line x1="207.8" y1="426.13" x2="209.4" y2="426.13" stroke="#222" stroke-width="0.6"/>
<line x1="285.47" y1="496.9" x2="285.47" y2="498.5" stroke="#222" stroke-width="0.6"/>
<line x1="207.8" y1="422.98" x2="209.4" y2="422.98" stroke="#222" stroke-width="0.6"/>
<line x1="288.86" y1="496.9" x2="288.86" y2="498.5" stroke="#222" stroke-width="0.6"/>
<line x1="207.8" y1="420.41" x2="209.4" y2="420.41" stroke="#222" stroke-width="0.6"/>
<line x1="291.64" y1="496.9" x2="291.64" y2="498.5" stroke="#222" stroke-width="0.6"/>
<line x1="207.8" y1="418.23" x2="209.4" y2="418.23" stroke="#222" stroke-width="0.6"/>
<line x1="293.98" y1="496.9" x2="293.98" y2="498.5" stroke="#222" stroke-width="0.6"/>
<line x1="207.8" y1="416.35" x2="209.4" y2="416.35" stroke="#222" stroke-width="0.6"/>
<line x1="296.01" y1="496.9" x2="296.01" y2="498.5" stroke="#222" stroke-width="0.6"/>
<line x1="207.8" y1="414.69" x2="209.4" y2="414.69" stroke="#222" stroke-width="0.6"/>
<line x1="297.8" y1="496.9" x2="297.8" y2="498.5" stroke="#222" stroke-width="0.6"/>
<line x1="207.8" y1="403.42" x2="209.4" y2="403.42" stroke="#222" stroke-width="0.6"/>
<line x1="309.94" y1="496.9" x2="309.94" y2="498.5" stroke="#222" stroke-width="0.6"/>
<line x1="207.8" y1="397.69" x2="209.4" y2="397.69" stroke="#222" stroke-width="0.6"/>
<line x1="316.1" y1="496.9" x2="316.1" y2="498.5" stroke="#222" stroke-width="0.6"/>
<line x1="207.8" y1="393.63" x2="209.4" y2="393.63" stroke="#222" stroke-width="0.6"/>
<line x1="320.47" y1="496.9" x2="320.47" y2="498.5" stroke="#222" stroke-width="0.6"/>
<line x1="207.8" y1="390.48" x2="209.4" y2="390.48" stroke="#222" stroke-width="0.6"/>
<line x1="323.86" y1="496.9" x2="323.86" y2="498.5" stroke="#222" stroke-width="0.6"/>
<line x1="207.8" y1="387.91" x2="209.4" y2="387.91" stroke="#222" stroke-width="0.6"/>
<line x1="326.64" y1="496.9" x2="326.64" y2="498.5" stroke="#222" stroke-width="0.6"/>
<line x1="207.8" y1="385.73" x2="209.4" y2="385.73" stroke="#222" stroke-width="0.6"/>
<line x1="328.98" y1="496.9" x2="328.98" y2="498.5" stroke="#222" stroke-width="0.6"/>
<line x1="207.8" y1="383.85" x2="209.4" y2="383.85" stroke="#222" stroke-width="0.6"/>
<line x1="331.01" y1="496.9" x2="331.01" y2="498.5" stroke="#222" stroke-width="0.6"/>
<line x1="207.8" y1="382.19" x2="209.4" y2="382.19" stroke="#222" stroke-width="0.6"/>
<line x1="332.8" y1="496.9" x2="332.8" y2="498.5" stroke="#222" stroke-width="0.6"/>
<line x1="207.8" y1="370.92" x2="209.4" y2="370.92" stroke="#222" stroke-width="0.6"/>
<line x1="344.94" y1="496.9" x2="344.94" y2="498.5" stroke="#222" stroke-width="0.6"/>
<text font-size="8.5" text-anchor="middle" x="247.6" y="436.8">Q1</text>
<text font-size="8.5" text-anchor="middle" x="292.2" y="436.8">Q2</text>
<text font-size="8.5" text-anchor="middle" x="248.4" y="479" fill="#16246e">Q3</text>
<text font-size="8.5" text-anchor="middle" x="292.2" y="479">Q4</text>
<text font-size="9.8" font-weight="bold" textLength="32.5" lengthAdjust="spacingAndGlyphs" x="260" y="363.1" fill="#000">(+)EPO</text>
<line x1="21.2" y1="518.8" x2="21.2" y2="479" stroke="#000" stroke-width="1.6"/>
<path d="M21.2 472.8 L24.9 481.6 L21.2 479.4 L17.5 481.6 Z" fill="#000"/>
<line x1="20.4" y1="518" x2="60" y2="518" stroke="#000" stroke-width="1.6"/>
<path d="M66.2 518 L57.4 521.7 L59.6 518 L57.4 514.3 Z" fill="#000"/>
<text font-size="8.4" text-anchor="middle" textLength="23.5" lengthAdjust="spacingAndGlyphs" transform="translate(17.2 498) rotate(-90)">EPOR</text>
<text font-size="8.4" textLength="20.8" lengthAdjust="spacingAndGlyphs" x="29.8" y="528.2">CD34</text>
<rect x="0" y="0" width="1.7" height="540" fill="#000"/>
<rect x="0" y="0" width="520" height="1.2" fill="#000"/>
<rect x="518.7" y="0" width="1.3" height="540" fill="#000"/>
<rect x="0" y="538.3" width="520" height="1.7" fill="#000"/>
</svg>
</body></html>
